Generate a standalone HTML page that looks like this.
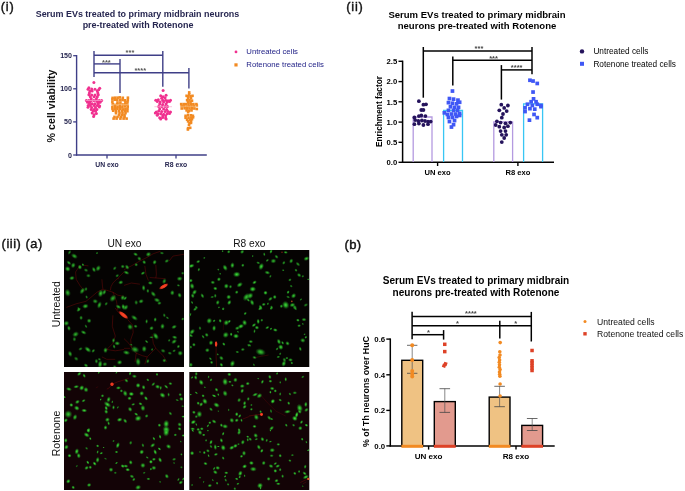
<!DOCTYPE html>
<html><head><meta charset="utf-8"><title>Figure</title>
<style>html,body{margin:0;padding:0;background:#fff;}body{width:685px;height:491px;overflow:hidden;}svg{display:block;}text{font-family:"Liberation Sans",sans-serif;}</style>
</head><body>
<svg width="685" height="491" viewBox="0 0 685 491">
<rect width="685" height="491" fill="#fff"/>
<g opacity="0.999">
<text x="0.8" y="11.3" font-size="12.8" font-weight="normal" fill="#111" text-anchor="start" stroke="#111" stroke-width="0.4" letter-spacing="0.8">(i)</text>
<text x="137.5" y="17.4" font-size="8.95" font-weight="bold" fill="#262650" text-anchor="middle" >Serum EVs treated to primary midbrain neurons</text>
<text x="138" y="28.3" font-size="8.95" font-weight="bold" fill="#262650" text-anchor="middle" >pre-treated with Rotenone</text>
<line x1="76.6" y1="55" x2="76.6" y2="155.6" stroke="#3f3f87" stroke-width="1.4" />
<line x1="76" y1="155" x2="206.8" y2="155" stroke="#3f3f87" stroke-width="1.4" />
<line x1="73.2" y1="55.7" x2="76.6" y2="55.7" stroke="#3f3f87" stroke-width="1.3" />
<text x="72" y="58.2" font-size="7.1" font-weight="bold" fill="#262650" text-anchor="end" >150</text>
<line x1="73.2" y1="88.8" x2="76.6" y2="88.8" stroke="#3f3f87" stroke-width="1.3" />
<text x="72" y="91.3" font-size="7.1" font-weight="bold" fill="#262650" text-anchor="end" >100</text>
<line x1="73.2" y1="121.9" x2="76.6" y2="121.9" stroke="#3f3f87" stroke-width="1.3" />
<text x="72" y="124.4" font-size="7.1" font-weight="bold" fill="#262650" text-anchor="end" >50</text>
<line x1="73.2" y1="155" x2="76.6" y2="155" stroke="#3f3f87" stroke-width="1.3" />
<text x="72" y="157.5" font-size="7.1" font-weight="bold" fill="#262650" text-anchor="end" >0</text>
<line x1="107" y1="155" x2="107" y2="158.6" stroke="#3f3f87" stroke-width="1.3" />
<text x="107" y="167" font-size="6.8" font-weight="bold" fill="#262650" text-anchor="middle" >UN exo</text>
<line x1="176" y1="155" x2="176" y2="158.6" stroke="#3f3f87" stroke-width="1.3" />
<text x="176" y="167" font-size="6.8" font-weight="bold" fill="#262650" text-anchor="middle" >R8 exo</text>
<text x="55.3" y="106" font-size="10.65" font-weight="bold" fill="#111" text-anchor="middle" transform="rotate(-90 55.3 106)" >% cell viability</text>
<line x1="94" y1="51" x2="94" y2="77" stroke="#3f3f87" stroke-width="1.4" />
<line x1="94" y1="55.3" x2="162.8" y2="55.3" stroke="#3f3f87" stroke-width="1.4" />
<line x1="162.8" y1="51" x2="162.8" y2="86.8" stroke="#3f3f87" stroke-width="1.4" />
<line x1="94" y1="63.9" x2="120" y2="63.9" stroke="#3f3f87" stroke-width="1.4" />
<line x1="120" y1="59" x2="120" y2="93" stroke="#3f3f87" stroke-width="1.4" />
<line x1="94" y1="72.7" x2="188.9" y2="72.7" stroke="#3f3f87" stroke-width="1.4" />
<line x1="188.9" y1="68" x2="188.9" y2="88.5" stroke="#3f3f87" stroke-width="1.4" />
<text x="130" y="54.88" font-size="7.5" font-weight="bold" fill="#555" text-anchor="middle" >***</text>
<text x="106.4" y="64.58" font-size="7.5" font-weight="bold" fill="#555" text-anchor="middle" >***</text>
<text x="140.3" y="72.88" font-size="7.5" font-weight="bold" fill="#555" text-anchor="middle" >****</text>
<circle cx="93.9" cy="82.4" r="1.5" fill="#f0308f"/>
<circle cx="88.9" cy="87.8" r="1.5" fill="#f0308f"/>
<circle cx="99.7" cy="88.3" r="1.5" fill="#f0308f"/>
<circle cx="88.0" cy="89.2" r="1.5" fill="#f0308f"/>
<circle cx="91.7" cy="89.1" r="1.5" fill="#f0308f"/>
<circle cx="95.0" cy="89.2" r="1.5" fill="#f0308f"/>
<circle cx="98.7" cy="89.7" r="1.5" fill="#f0308f"/>
<circle cx="89.8" cy="91.1" r="1.5" fill="#f0308f"/>
<circle cx="92.2" cy="91.1" r="1.5" fill="#f0308f"/>
<circle cx="97.3" cy="91.1" r="1.5" fill="#f0308f"/>
<circle cx="89.4" cy="93.0" r="1.5" fill="#f0308f"/>
<circle cx="97.8" cy="93.0" r="1.5" fill="#f0308f"/>
<circle cx="88.9" cy="94.7" r="1.5" fill="#f0308f"/>
<circle cx="91.7" cy="94.9" r="1.5" fill="#f0308f"/>
<circle cx="95.0" cy="95.1" r="1.5" fill="#f0308f"/>
<circle cx="98.3" cy="94.7" r="1.5" fill="#f0308f"/>
<circle cx="90.3" cy="96.7" r="1.5" fill="#f0308f"/>
<circle cx="94.1" cy="96.7" r="1.5" fill="#f0308f"/>
<circle cx="97.3" cy="96.7" r="1.5" fill="#f0308f"/>
<circle cx="91.2" cy="98.8" r="1.5" fill="#f0308f"/>
<circle cx="96.4" cy="98.8" r="1.5" fill="#f0308f"/>
<circle cx="86.4" cy="100.5" r="1.5" fill="#f0308f"/>
<circle cx="88.9" cy="100.5" r="1.5" fill="#f0308f"/>
<circle cx="91.2" cy="100.5" r="1.5" fill="#f0308f"/>
<circle cx="93.9" cy="100.5" r="1.5" fill="#f0308f"/>
<circle cx="96.4" cy="100.5" r="1.5" fill="#f0308f"/>
<circle cx="99.2" cy="100.5" r="1.5" fill="#f0308f"/>
<circle cx="101.6" cy="100.5" r="1.5" fill="#f0308f"/>
<circle cx="87.5" cy="102.2" r="1.5" fill="#f0308f"/>
<circle cx="89.8" cy="102.2" r="1.5" fill="#f0308f"/>
<circle cx="100.1" cy="102.2" r="1.5" fill="#f0308f"/>
<circle cx="97.8" cy="102.2" r="1.5" fill="#f0308f"/>
<circle cx="89.4" cy="103.8" r="1.5" fill="#f0308f"/>
<circle cx="92.2" cy="103.8" r="1.5" fill="#f0308f"/>
<circle cx="95.0" cy="103.8" r="1.5" fill="#f0308f"/>
<circle cx="98.3" cy="103.8" r="1.5" fill="#f0308f"/>
<circle cx="88.2" cy="105.6" r="1.5" fill="#f0308f"/>
<circle cx="90.3" cy="105.6" r="1.5" fill="#f0308f"/>
<circle cx="94.1" cy="105.6" r="1.5" fill="#f0308f"/>
<circle cx="97.3" cy="105.6" r="1.5" fill="#f0308f"/>
<circle cx="99.7" cy="106.1" r="1.5" fill="#f0308f"/>
<circle cx="88.0" cy="107.2" r="1.5" fill="#f0308f"/>
<circle cx="91.7" cy="107.5" r="1.5" fill="#f0308f"/>
<circle cx="95.5" cy="107.5" r="1.5" fill="#f0308f"/>
<circle cx="99.2" cy="107.1" r="1.5" fill="#f0308f"/>
<circle cx="91.2" cy="109.4" r="1.5" fill="#f0308f"/>
<circle cx="94.1" cy="109.4" r="1.5" fill="#f0308f"/>
<circle cx="96.9" cy="109.4" r="1.5" fill="#f0308f"/>
<circle cx="93.1" cy="111.0" r="1.5" fill="#f0308f"/>
<circle cx="95.5" cy="111.3" r="1.5" fill="#f0308f"/>
<circle cx="92.2" cy="113.1" r="1.5" fill="#f0308f"/>
<circle cx="96.4" cy="113.4" r="1.5" fill="#f0308f"/>
<circle cx="94.1" cy="114.7" r="1.5" fill="#f0308f"/>
<circle cx="93.6" cy="116.4" r="1.5" fill="#f0308f"/>
<line x1="85.5" y1="100.5" x2="102.5" y2="100.5" stroke="#f9a8d0" stroke-width="0.7" />
<rect x="111.3" y="96.6" width="2.6" height="2.6" fill="#f28a22"/>
<rect x="113.8" y="96.4" width="2.6" height="2.6" fill="#f28a22"/>
<rect x="116.3" y="96.4" width="2.6" height="2.6" fill="#f28a22"/>
<rect x="118.5" y="96.1" width="2.6" height="2.6" fill="#f28a22"/>
<rect x="121.5" y="96.5" width="2.6" height="2.6" fill="#f28a22"/>
<rect x="126.6" y="96.4" width="2.6" height="2.6" fill="#f28a22"/>
<rect x="111.1" y="98.2" width="2.6" height="2.6" fill="#f28a22"/>
<rect x="113.5" y="98.4" width="2.6" height="2.6" fill="#f28a22"/>
<rect x="116.0" y="98.6" width="2.6" height="2.6" fill="#f28a22"/>
<rect x="119.0" y="98.6" width="2.6" height="2.6" fill="#f28a22"/>
<rect x="121.3" y="98.7" width="2.6" height="2.6" fill="#f28a22"/>
<rect x="123.6" y="99.0" width="2.6" height="2.6" fill="#f28a22"/>
<rect x="126.5" y="98.8" width="2.6" height="2.6" fill="#f28a22"/>
<rect x="111.1" y="100.7" width="2.6" height="2.6" fill="#f28a22"/>
<rect x="116.2" y="101.2" width="2.6" height="2.6" fill="#f28a22"/>
<rect x="119.1" y="101.2" width="2.6" height="2.6" fill="#f28a22"/>
<rect x="124.1" y="100.9" width="2.6" height="2.6" fill="#f28a22"/>
<rect x="126.2" y="100.6" width="2.6" height="2.6" fill="#f28a22"/>
<rect x="111.5" y="103.0" width="2.6" height="2.6" fill="#f28a22"/>
<rect x="113.7" y="103.6" width="2.6" height="2.6" fill="#f28a22"/>
<rect x="116.0" y="103.0" width="2.6" height="2.6" fill="#f28a22"/>
<rect x="118.5" y="103.4" width="2.6" height="2.6" fill="#f28a22"/>
<rect x="121.3" y="103.2" width="2.6" height="2.6" fill="#f28a22"/>
<rect x="124.0" y="102.9" width="2.6" height="2.6" fill="#f28a22"/>
<rect x="126.0" y="103.1" width="2.6" height="2.6" fill="#f28a22"/>
<rect x="111.1" y="105.9" width="2.6" height="2.6" fill="#f28a22"/>
<rect x="113.7" y="105.8" width="2.6" height="2.6" fill="#f28a22"/>
<rect x="116.2" y="105.8" width="2.6" height="2.6" fill="#f28a22"/>
<rect x="118.5" y="105.9" width="2.6" height="2.6" fill="#f28a22"/>
<rect x="121.1" y="105.7" width="2.6" height="2.6" fill="#f28a22"/>
<rect x="123.7" y="105.2" width="2.6" height="2.6" fill="#f28a22"/>
<rect x="126.4" y="105.3" width="2.6" height="2.6" fill="#f28a22"/>
<rect x="111.2" y="107.7" width="2.6" height="2.6" fill="#f28a22"/>
<rect x="113.8" y="107.8" width="2.6" height="2.6" fill="#f28a22"/>
<rect x="116.1" y="107.4" width="2.6" height="2.6" fill="#f28a22"/>
<rect x="119.0" y="107.5" width="2.6" height="2.6" fill="#f28a22"/>
<rect x="121.5" y="108.1" width="2.6" height="2.6" fill="#f28a22"/>
<rect x="124.1" y="108.0" width="2.6" height="2.6" fill="#f28a22"/>
<rect x="126.2" y="107.4" width="2.6" height="2.6" fill="#f28a22"/>
<rect x="111.9" y="109.4" width="2.6" height="2.6" fill="#f28a22"/>
<rect x="114.7" y="110.0" width="2.6" height="2.6" fill="#f28a22"/>
<rect x="117.7" y="109.5" width="2.6" height="2.6" fill="#f28a22"/>
<rect x="120.7" y="109.8" width="2.6" height="2.6" fill="#f28a22"/>
<rect x="123.5" y="109.6" width="2.6" height="2.6" fill="#f28a22"/>
<rect x="126.1" y="109.9" width="2.6" height="2.6" fill="#f28a22"/>
<rect x="114.7" y="111.9" width="2.6" height="2.6" fill="#f28a22"/>
<rect x="118.2" y="111.9" width="2.6" height="2.6" fill="#f28a22"/>
<rect x="121.2" y="111.9" width="2.6" height="2.6" fill="#f28a22"/>
<rect x="124.2" y="111.9" width="2.6" height="2.6" fill="#f28a22"/>
<rect x="117.7" y="113.9" width="2.6" height="2.6" fill="#f28a22"/>
<rect x="120.7" y="113.9" width="2.6" height="2.6" fill="#f28a22"/>
<rect x="123.2" y="113.9" width="2.6" height="2.6" fill="#f28a22"/>
<rect x="113.2" y="115.6" width="2.6" height="2.6" fill="#f28a22"/>
<rect x="116.2" y="115.6" width="2.6" height="2.6" fill="#f28a22"/>
<rect x="119.7" y="115.6" width="2.6" height="2.6" fill="#f28a22"/>
<rect x="123.2" y="115.6" width="2.6" height="2.6" fill="#f28a22"/>
<rect x="112.3" y="117.3" width="2.6" height="2.6" fill="#f28a22"/>
<rect x="115.3" y="117.3" width="2.6" height="2.6" fill="#f28a22"/>
<rect x="119.1" y="117.3" width="2.6" height="2.6" fill="#f28a22"/>
<rect x="122.3" y="117.3" width="2.6" height="2.6" fill="#f28a22"/>
<rect x="125.3" y="117.3" width="2.6" height="2.6" fill="#f28a22"/>
<line x1="111.5" y1="104.6" x2="128.5" y2="104.6" stroke="#f9c48c" stroke-width="0.6" />
<circle cx="163.1" cy="90.4" r="1.5" fill="#f0308f"/>
<circle cx="166.1" cy="95.3" r="1.5" fill="#f0308f"/>
<circle cx="160.7" cy="95.8" r="1.5" fill="#f0308f"/>
<circle cx="163.1" cy="96.7" r="1.5" fill="#f0308f"/>
<circle cx="165.1" cy="97.7" r="1.5" fill="#f0308f"/>
<circle cx="161.7" cy="98.2" r="1.5" fill="#f0308f"/>
<circle cx="155.8" cy="100.2" r="1.5" fill="#f0308f"/>
<circle cx="158.3" cy="99.7" r="1.5" fill="#f0308f"/>
<circle cx="170.5" cy="100.2" r="1.5" fill="#f0308f"/>
<circle cx="168.0" cy="100.7" r="1.5" fill="#f0308f"/>
<circle cx="162.7" cy="100.2" r="1.5" fill="#f0308f"/>
<circle cx="165.6" cy="100.2" r="1.5" fill="#f0308f"/>
<circle cx="157.3" cy="101.6" r="1.5" fill="#f0308f"/>
<circle cx="160.2" cy="102.1" r="1.5" fill="#f0308f"/>
<circle cx="163.6" cy="102.1" r="1.5" fill="#f0308f"/>
<circle cx="167.1" cy="102.1" r="1.5" fill="#f0308f"/>
<circle cx="169.5" cy="101.6" r="1.5" fill="#f0308f"/>
<circle cx="159.7" cy="104.1" r="1.5" fill="#f0308f"/>
<circle cx="162.7" cy="104.6" r="1.5" fill="#f0308f"/>
<circle cx="166.1" cy="104.1" r="1.5" fill="#f0308f"/>
<circle cx="158.7" cy="106.5" r="1.5" fill="#f0308f"/>
<circle cx="161.7" cy="106.7" r="1.5" fill="#f0308f"/>
<circle cx="165.1" cy="106.5" r="1.5" fill="#f0308f"/>
<circle cx="167.5" cy="106.5" r="1.5" fill="#f0308f"/>
<circle cx="159.7" cy="109.0" r="1.5" fill="#f0308f"/>
<circle cx="163.6" cy="109.0" r="1.5" fill="#f0308f"/>
<circle cx="166.6" cy="109.4" r="1.5" fill="#f0308f"/>
<circle cx="156.3" cy="111.9" r="1.5" fill="#f0308f"/>
<circle cx="158.7" cy="110.9" r="1.5" fill="#f0308f"/>
<circle cx="161.7" cy="111.4" r="1.5" fill="#f0308f"/>
<circle cx="165.1" cy="111.4" r="1.5" fill="#f0308f"/>
<circle cx="168.0" cy="111.6" r="1.5" fill="#f0308f"/>
<circle cx="170.5" cy="111.9" r="1.5" fill="#f0308f"/>
<circle cx="155.3" cy="112.9" r="1.5" fill="#f0308f"/>
<circle cx="157.8" cy="113.8" r="1.5" fill="#f0308f"/>
<circle cx="160.7" cy="113.8" r="1.5" fill="#f0308f"/>
<circle cx="163.6" cy="114.3" r="1.5" fill="#f0308f"/>
<circle cx="167.1" cy="113.8" r="1.5" fill="#f0308f"/>
<circle cx="169.5" cy="113.4" r="1.5" fill="#f0308f"/>
<circle cx="157.3" cy="115.3" r="1.5" fill="#f0308f"/>
<circle cx="162.7" cy="115.8" r="1.5" fill="#f0308f"/>
<circle cx="165.6" cy="115.8" r="1.5" fill="#f0308f"/>
<circle cx="159.7" cy="117.8" r="1.5" fill="#f0308f"/>
<circle cx="162.7" cy="117.5" r="1.5" fill="#f0308f"/>
<circle cx="165.6" cy="118.0" r="1.5" fill="#f0308f"/>
<circle cx="160.7" cy="119.0" r="1.5" fill="#f0308f"/>
<circle cx="166.1" cy="119.0" r="1.5" fill="#f0308f"/>
<line x1="154.4" y1="106.7" x2="172" y2="106.7" stroke="#f9a8d0" stroke-width="0.7" />
<rect x="187.9" y="91.1" width="2.6" height="2.6" fill="#f28a22"/>
<rect x="187.9" y="93.0" width="2.6" height="2.6" fill="#f28a22"/>
<rect x="186.8" y="95.0" width="2.6" height="2.6" fill="#f28a22"/>
<rect x="189.2" y="95.0" width="2.6" height="2.6" fill="#f28a22"/>
<rect x="191.2" y="94.5" width="2.6" height="2.6" fill="#f28a22"/>
<rect x="185.3" y="94.5" width="2.6" height="2.6" fill="#f28a22"/>
<rect x="186.8" y="96.9" width="2.6" height="2.6" fill="#f28a22"/>
<rect x="189.7" y="96.9" width="2.6" height="2.6" fill="#f28a22"/>
<rect x="185.8" y="98.9" width="2.6" height="2.6" fill="#f28a22"/>
<rect x="188.2" y="98.9" width="2.6" height="2.6" fill="#f28a22"/>
<rect x="190.7" y="99.4" width="2.6" height="2.6" fill="#f28a22"/>
<rect x="186.8" y="100.8" width="2.6" height="2.6" fill="#f28a22"/>
<rect x="189.2" y="100.8" width="2.6" height="2.6" fill="#f28a22"/>
<rect x="179.9" y="102.8" width="2.6" height="2.6" fill="#f28a22"/>
<rect x="182.4" y="102.8" width="2.6" height="2.6" fill="#f28a22"/>
<rect x="184.8" y="102.8" width="2.6" height="2.6" fill="#f28a22"/>
<rect x="187.2" y="102.8" width="2.6" height="2.6" fill="#f28a22"/>
<rect x="189.7" y="102.8" width="2.6" height="2.6" fill="#f28a22"/>
<rect x="192.1" y="102.8" width="2.6" height="2.6" fill="#f28a22"/>
<rect x="195.1" y="102.8" width="2.6" height="2.6" fill="#f28a22"/>
<rect x="180.4" y="104.7" width="2.6" height="2.6" fill="#f28a22"/>
<rect x="182.8" y="104.7" width="2.6" height="2.6" fill="#f28a22"/>
<rect x="185.3" y="105.2" width="2.6" height="2.6" fill="#f28a22"/>
<rect x="187.7" y="105.0" width="2.6" height="2.6" fill="#f28a22"/>
<rect x="190.2" y="104.7" width="2.6" height="2.6" fill="#f28a22"/>
<rect x="192.6" y="104.7" width="2.6" height="2.6" fill="#f28a22"/>
<rect x="195.5" y="104.2" width="2.6" height="2.6" fill="#f28a22"/>
<rect x="180.4" y="107.2" width="2.6" height="2.6" fill="#f28a22"/>
<rect x="183.3" y="107.0" width="2.6" height="2.6" fill="#f28a22"/>
<rect x="185.8" y="107.0" width="2.6" height="2.6" fill="#f28a22"/>
<rect x="188.2" y="107.2" width="2.6" height="2.6" fill="#f28a22"/>
<rect x="190.7" y="107.0" width="2.6" height="2.6" fill="#f28a22"/>
<rect x="193.1" y="107.2" width="2.6" height="2.6" fill="#f28a22"/>
<rect x="195.5" y="107.7" width="2.6" height="2.6" fill="#f28a22"/>
<rect x="185.3" y="109.1" width="2.6" height="2.6" fill="#f28a22"/>
<rect x="187.7" y="109.6" width="2.6" height="2.6" fill="#f28a22"/>
<rect x="190.2" y="109.1" width="2.6" height="2.6" fill="#f28a22"/>
<rect x="186.8" y="110.9" width="2.6" height="2.6" fill="#f28a22"/>
<rect x="184.3" y="114.5" width="2.6" height="2.6" fill="#f28a22"/>
<rect x="186.8" y="114.0" width="2.6" height="2.6" fill="#f28a22"/>
<rect x="189.7" y="114.0" width="2.6" height="2.6" fill="#f28a22"/>
<rect x="191.6" y="114.5" width="2.6" height="2.6" fill="#f28a22"/>
<rect x="184.3" y="116.5" width="2.6" height="2.6" fill="#f28a22"/>
<rect x="187.2" y="116.5" width="2.6" height="2.6" fill="#f28a22"/>
<rect x="189.7" y="116.2" width="2.6" height="2.6" fill="#f28a22"/>
<rect x="191.8" y="116.0" width="2.6" height="2.6" fill="#f28a22"/>
<rect x="185.8" y="118.4" width="2.6" height="2.6" fill="#f28a22"/>
<rect x="188.7" y="118.4" width="2.6" height="2.6" fill="#f28a22"/>
<rect x="190.7" y="117.9" width="2.6" height="2.6" fill="#f28a22"/>
<rect x="186.8" y="120.1" width="2.6" height="2.6" fill="#f28a22"/>
<rect x="189.7" y="119.9" width="2.6" height="2.6" fill="#f28a22"/>
<rect x="188.2" y="121.8" width="2.6" height="2.6" fill="#f28a22"/>
<rect x="189.7" y="121.6" width="2.6" height="2.6" fill="#f28a22"/>
<rect x="187.7" y="123.6" width="2.6" height="2.6" fill="#f28a22"/>
<rect x="186.8" y="126.9" width="2.6" height="2.6" fill="#f28a22"/>
<rect x="188.9" y="126.5" width="2.6" height="2.6" fill="#f28a22"/>
<rect x="186.6" y="128.2" width="2.6" height="2.6" fill="#f28a22"/>
<line x1="180.3" y1="106.3" x2="198" y2="106.3" stroke="#f9c48c" stroke-width="0.6" />
<circle cx="236" cy="51.9" r="1.4" fill="#f0308f"/>
<rect x="234.4" y="63.3" width="3.2" height="3.2" fill="#f28a22"/>
<text x="246.3" y="54.2" font-size="7.75" font-weight="normal" fill="#232388" text-anchor="start" >Untreated cells</text>
<text x="246.3" y="67.0" font-size="7.75" font-weight="normal" fill="#232388" text-anchor="start" >Rotenone treated cells</text>
<text x="346.3" y="11.3" font-size="12.8" font-weight="normal" fill="#111" text-anchor="start" stroke="#111" stroke-width="0.4" letter-spacing="0.75">(ii)</text>
<text x="477" y="17.9" font-size="9.55" font-weight="bold" fill="#000" text-anchor="middle" >Serum EVs treated to primary midbrain</text>
<text x="477" y="28.5" font-size="9.55" font-weight="bold" fill="#000" text-anchor="middle" >neurons pre-treated with Rotenone</text>
<line x1="402.6" y1="60.6" x2="402.6" y2="163" stroke="#000" stroke-width="1.5" />
<line x1="401.9" y1="162.3" x2="554" y2="162.3" stroke="#000" stroke-width="1.5" />
<line x1="398.5" y1="61.3" x2="402.6" y2="61.3" stroke="#000" stroke-width="1.4" />
<text x="397.2" y="64.0" font-size="7.7" font-weight="bold" fill="#000" text-anchor="end" >2.5</text>
<line x1="398.5" y1="81.6" x2="402.6" y2="81.6" stroke="#000" stroke-width="1.4" />
<text x="397.2" y="84.3" font-size="7.7" font-weight="bold" fill="#000" text-anchor="end" >2.0</text>
<line x1="398.5" y1="101.8" x2="402.6" y2="101.8" stroke="#000" stroke-width="1.4" />
<text x="397.2" y="104.5" font-size="7.7" font-weight="bold" fill="#000" text-anchor="end" >1.5</text>
<line x1="398.5" y1="122.1" x2="402.6" y2="122.1" stroke="#000" stroke-width="1.4" />
<text x="397.2" y="124.8" font-size="7.7" font-weight="bold" fill="#000" text-anchor="end" >1.0</text>
<line x1="398.5" y1="142.3" x2="402.6" y2="142.3" stroke="#000" stroke-width="1.4" />
<text x="397.2" y="145.0" font-size="7.7" font-weight="bold" fill="#000" text-anchor="end" >0.5</text>
<line x1="398.5" y1="162.3" x2="402.6" y2="162.3" stroke="#000" stroke-width="1.4" />
<text x="397.2" y="165.0" font-size="7.7" font-weight="bold" fill="#000" text-anchor="end" >0.0</text>
<line x1="437.6" y1="162.3" x2="437.6" y2="166" stroke="#000" stroke-width="1.4" />
<text x="437.6" y="175.2" font-size="7.6" font-weight="bold" fill="#000" text-anchor="middle" >UN exo</text>
<line x1="517.9" y1="162.3" x2="517.9" y2="166" stroke="#000" stroke-width="1.4" />
<text x="517.9" y="175.2" font-size="7.6" font-weight="bold" fill="#000" text-anchor="middle" >R8 exo</text>
<text x="382" y="111.5" font-size="8.3" font-weight="bold" fill="#000" text-anchor="middle" transform="rotate(-90 382 111.5)" >Enrichment factor</text>
<path d="M413.2 162 V117 H432 V162" fill="none" stroke="#b49ae0" stroke-width="1.3"/>
<path d="M443.6 162 V110.5 H462.5 V162" fill="none" stroke="#38c6f4" stroke-width="1.3"/>
<path d="M493.8 162 V121.8 H512.6 V162" fill="none" stroke="#b49ae0" stroke-width="1.3"/>
<path d="M523.6 162 V103.8 H542.6 V162" fill="none" stroke="#38c6f4" stroke-width="1.3"/>
<circle cx="418.9" cy="101.2" r="1.9" fill="#25135c"/>
<circle cx="423.4" cy="104.7" r="1.9" fill="#25135c"/>
<circle cx="426.0" cy="104.3" r="1.9" fill="#25135c"/>
<circle cx="421.3" cy="110.0" r="1.9" fill="#25135c"/>
<circle cx="423.4" cy="110.0" r="1.9" fill="#25135c"/>
<circle cx="414.4" cy="117.5" r="1.9" fill="#25135c"/>
<circle cx="418.9" cy="116.1" r="1.9" fill="#25135c"/>
<circle cx="421.3" cy="115.5" r="1.9" fill="#25135c"/>
<circle cx="425.4" cy="116.1" r="1.9" fill="#25135c"/>
<circle cx="415.2" cy="120.1" r="1.9" fill="#25135c"/>
<circle cx="418.3" cy="121.0" r="1.9" fill="#25135c"/>
<circle cx="421.9" cy="120.5" r="1.9" fill="#25135c"/>
<circle cx="425.0" cy="121.0" r="1.9" fill="#25135c"/>
<circle cx="428.0" cy="121.6" r="1.9" fill="#25135c"/>
<circle cx="430.7" cy="121.6" r="1.9" fill="#25135c"/>
<circle cx="414.4" cy="124.2" r="1.9" fill="#25135c"/>
<circle cx="418.9" cy="123.6" r="1.9" fill="#25135c"/>
<circle cx="423.4" cy="125.0" r="1.9" fill="#25135c"/>
<circle cx="428.0" cy="124.2" r="1.9" fill="#25135c"/>
<rect x="450.6" y="89.2" width="3.7" height="3.7" fill="#3f57f5"/>
<rect x="447.6" y="96.7" width="3.7" height="3.7" fill="#3f57f5"/>
<rect x="451.7" y="97.3" width="3.7" height="3.7" fill="#3f57f5"/>
<rect x="456.1" y="98.3" width="3.7" height="3.7" fill="#3f57f5"/>
<rect x="446.6" y="100.8" width="3.7" height="3.7" fill="#3f57f5"/>
<rect x="450.6" y="101.4" width="3.7" height="3.7" fill="#3f57f5"/>
<rect x="454.7" y="102.0" width="3.7" height="3.7" fill="#3f57f5"/>
<rect x="457.8" y="100.4" width="3.7" height="3.7" fill="#3f57f5"/>
<rect x="448.6" y="104.9" width="3.7" height="3.7" fill="#3f57f5"/>
<rect x="452.7" y="105.5" width="3.7" height="3.7" fill="#3f57f5"/>
<rect x="456.7" y="105.5" width="3.7" height="3.7" fill="#3f57f5"/>
<rect x="446.6" y="108.5" width="3.7" height="3.7" fill="#3f57f5"/>
<rect x="451.7" y="108.5" width="3.7" height="3.7" fill="#3f57f5"/>
<rect x="455.7" y="108.5" width="3.7" height="3.7" fill="#3f57f5"/>
<rect x="442.5" y="111.0" width="3.7" height="3.7" fill="#3f57f5"/>
<rect x="445.5" y="112.6" width="3.7" height="3.7" fill="#3f57f5"/>
<rect x="449.6" y="112.2" width="3.7" height="3.7" fill="#3f57f5"/>
<rect x="453.7" y="112.2" width="3.7" height="3.7" fill="#3f57f5"/>
<rect x="457.8" y="111.6" width="3.7" height="3.7" fill="#3f57f5"/>
<rect x="446.6" y="115.6" width="3.7" height="3.7" fill="#3f57f5"/>
<rect x="450.6" y="115.6" width="3.7" height="3.7" fill="#3f57f5"/>
<rect x="454.7" y="114.6" width="3.7" height="3.7" fill="#3f57f5"/>
<rect x="447.6" y="119.7" width="3.7" height="3.7" fill="#3f57f5"/>
<rect x="452.7" y="118.7" width="3.7" height="3.7" fill="#3f57f5"/>
<rect x="449.6" y="125.2" width="3.7" height="3.7" fill="#3f57f5"/>
<rect x="451.7" y="122.8" width="3.7" height="3.7" fill="#3f57f5"/>
<rect x="457.8" y="113.6" width="3.7" height="3.7" fill="#3f57f5"/>
<circle cx="501.3" cy="104.7" r="1.9" fill="#25135c"/>
<circle cx="507.9" cy="105.5" r="1.9" fill="#25135c"/>
<circle cx="504.2" cy="107.9" r="1.9" fill="#25135c"/>
<circle cx="499.3" cy="110.3" r="1.9" fill="#25135c"/>
<circle cx="506.7" cy="111.1" r="1.9" fill="#25135c"/>
<circle cx="503.0" cy="114.0" r="1.9" fill="#25135c"/>
<circle cx="501.8" cy="117.7" r="1.9" fill="#25135c"/>
<circle cx="496.9" cy="121.3" r="1.9" fill="#25135c"/>
<circle cx="500.6" cy="122.6" r="1.9" fill="#25135c"/>
<circle cx="505.5" cy="123.3" r="1.9" fill="#25135c"/>
<circle cx="510.3" cy="122.6" r="1.9" fill="#25135c"/>
<circle cx="495.7" cy="125.0" r="1.9" fill="#25135c"/>
<circle cx="499.3" cy="126.7" r="1.9" fill="#25135c"/>
<circle cx="504.2" cy="127.5" r="1.9" fill="#25135c"/>
<circle cx="507.9" cy="126.2" r="1.9" fill="#25135c"/>
<circle cx="500.6" cy="131.1" r="1.9" fill="#25135c"/>
<circle cx="505.5" cy="131.1" r="1.9" fill="#25135c"/>
<circle cx="501.8" cy="134.8" r="1.9" fill="#25135c"/>
<circle cx="506.2" cy="134.8" r="1.9" fill="#25135c"/>
<circle cx="504.2" cy="138.0" r="1.9" fill="#25135c"/>
<circle cx="501.8" cy="142.1" r="1.9" fill="#25135c"/>
<rect x="528.1" y="78.4" width="3.7" height="3.7" fill="#3f57f5"/>
<rect x="531.2" y="79.2" width="3.7" height="3.7" fill="#3f57f5"/>
<rect x="535.4" y="81.6" width="3.7" height="3.7" fill="#3f57f5"/>
<rect x="531.2" y="90.2" width="3.7" height="3.7" fill="#3f57f5"/>
<rect x="531.7" y="97.0" width="3.7" height="3.7" fill="#3f57f5"/>
<rect x="529.3" y="99.9" width="3.7" height="3.7" fill="#3f57f5"/>
<rect x="534.2" y="99.9" width="3.7" height="3.7" fill="#3f57f5"/>
<rect x="525.6" y="102.4" width="3.7" height="3.7" fill="#3f57f5"/>
<rect x="530.5" y="103.6" width="3.7" height="3.7" fill="#3f57f5"/>
<rect x="535.4" y="102.4" width="3.7" height="3.7" fill="#3f57f5"/>
<rect x="539.1" y="103.6" width="3.7" height="3.7" fill="#3f57f5"/>
<rect x="523.2" y="106.0" width="3.7" height="3.7" fill="#3f57f5"/>
<rect x="528.1" y="106.8" width="3.7" height="3.7" fill="#3f57f5"/>
<rect x="532.9" y="107.3" width="3.7" height="3.7" fill="#3f57f5"/>
<rect x="523.2" y="109.7" width="3.7" height="3.7" fill="#3f57f5"/>
<rect x="532.2" y="112.6" width="3.7" height="3.7" fill="#3f57f5"/>
<rect x="535.4" y="115.8" width="3.7" height="3.7" fill="#3f57f5"/>
<rect x="527.6" y="118.3" width="3.7" height="3.7" fill="#3f57f5"/>
<rect x="539.1" y="104.8" width="3.7" height="3.7" fill="#3f57f5"/>
<line x1="423.3" y1="47" x2="423.3" y2="97.7" stroke="#000" stroke-width="1.5" />
<line x1="423.3" y1="51" x2="532" y2="51" stroke="#000" stroke-width="1.5" />
<line x1="532" y1="47" x2="532" y2="74.3" stroke="#000" stroke-width="1.5" />
<line x1="452.8" y1="56.4" x2="452.8" y2="85.5" stroke="#000" stroke-width="1.5" />
<line x1="452.8" y1="60.2" x2="532" y2="60.2" stroke="#000" stroke-width="1.5" />
<line x1="501.4" y1="65.1" x2="501.4" y2="99.6" stroke="#000" stroke-width="1.5" />
<line x1="501.4" y1="69.9" x2="532" y2="69.9" stroke="#000" stroke-width="1.5" />
<text x="479" y="50.57" font-size="7.5" font-weight="bold" fill="#444" text-anchor="middle" >***</text>
<text x="493.6" y="60.67" font-size="7.5" font-weight="bold" fill="#444" text-anchor="middle" >***</text>
<text x="516.7" y="70.38" font-size="7.5" font-weight="bold" fill="#444" text-anchor="middle" >****</text>
<circle cx="582" cy="51.4" r="2.2" fill="#25135c"/>
<rect x="580" y="61.8" width="4" height="4" fill="#3f57f5"/>
<text x="593.4" y="54.3" font-size="8.25" font-weight="normal" fill="#000" text-anchor="start" >Untreated cells</text>
<text x="593.4" y="66.8" font-size="8.25" font-weight="normal" fill="#000" text-anchor="start" >Rotenone treated cells</text>
<text x="1.6" y="248.4" font-size="12.8" font-weight="normal" fill="#111" text-anchor="start" stroke="#111" stroke-width="0.4" letter-spacing="0.55">(iii) (a)</text>
<text x="124.5" y="247.2" font-size="10.2" font-weight="normal" fill="#111" text-anchor="middle" >UN exo</text>
<text x="249.3" y="247.2" font-size="10.2" font-weight="normal" fill="#111" text-anchor="middle" >R8 exo</text>
<text x="59.8" y="304.3" font-size="10.5" font-weight="normal" fill="#111" text-anchor="middle" transform="rotate(-90 59.8 304.3)" >Untreated</text>
<text x="59.8" y="433.5" font-size="10.5" font-weight="normal" fill="#111" text-anchor="middle" transform="rotate(-90 59.8 433.5)" >Rotenone</text>
<rect x="64" y="250" width="120" height="117" fill="#050302"/>
<rect x="189.3" y="250" width="120" height="117" fill="#050302"/>
<rect x="64" y="372" width="120" height="118" fill="#130306"/>
<rect x="189.3" y="372" width="120" height="118" fill="#130306"/>
<defs>
<radialGradient id="g0"><stop offset="0" stop-color="rgb(30,96,26)"/><stop offset="0.38" stop-color="rgb(18,80,18)" stop-opacity="0.85"/><stop offset="0.7" stop-color="rgb(18,80,18)" stop-opacity="0.3"/><stop offset="1" stop-color="rgb(18,80,18)" stop-opacity="0"/></radialGradient>
<radialGradient id="g1"><stop offset="0" stop-color="rgb(36,116,31)"/><stop offset="0.38" stop-color="rgb(21,97,21)" stop-opacity="0.85"/><stop offset="0.7" stop-color="rgb(21,97,21)" stop-opacity="0.3"/><stop offset="1" stop-color="rgb(21,97,21)" stop-opacity="0"/></radialGradient>
<radialGradient id="g2"><stop offset="0" stop-color="rgb(42,137,37)"/><stop offset="0.38" stop-color="rgb(25,114,25)" stop-opacity="0.85"/><stop offset="0.7" stop-color="rgb(25,114,25)" stop-opacity="0.3"/><stop offset="1" stop-color="rgb(25,114,25)" stop-opacity="0"/></radialGradient>
<radialGradient id="g3"><stop offset="0" stop-color="rgb(49,157,42)"/><stop offset="0.38" stop-color="rgb(29,131,29)" stop-opacity="0.85"/><stop offset="0.7" stop-color="rgb(29,131,29)" stop-opacity="0.3"/><stop offset="1" stop-color="rgb(29,131,29)" stop-opacity="0"/></radialGradient>
<radialGradient id="g4"><stop offset="0" stop-color="rgb(55,178,48)"/><stop offset="0.38" stop-color="rgb(33,148,33)" stop-opacity="0.85"/><stop offset="0.7" stop-color="rgb(33,148,33)" stop-opacity="0.3"/><stop offset="1" stop-color="rgb(33,148,33)" stop-opacity="0"/></radialGradient>
<radialGradient id="g5"><stop offset="0" stop-color="rgb(62,198,53)"/><stop offset="0.38" stop-color="rgb(37,165,37)" stop-opacity="0.85"/><stop offset="0.7" stop-color="rgb(37,165,37)" stop-opacity="0.3"/><stop offset="1" stop-color="rgb(37,165,37)" stop-opacity="0"/></radialGradient>
<radialGradient id="g6"><stop offset="0" stop-color="rgb(68,219,59)"/><stop offset="0.38" stop-color="rgb(41,182,41)" stop-opacity="0.85"/><stop offset="0.7" stop-color="rgb(41,182,41)" stop-opacity="0.3"/><stop offset="1" stop-color="rgb(41,182,41)" stop-opacity="0"/></radialGradient>
<radialGradient id="g7"><stop offset="0" stop-color="rgb(75,240,65)"/><stop offset="0.38" stop-color="rgb(45,200,45)" stop-opacity="0.85"/><stop offset="0.7" stop-color="rgb(45,200,45)" stop-opacity="0.3"/><stop offset="1" stop-color="rgb(45,200,45)" stop-opacity="0"/></radialGradient>
<radialGradient id="gr"><stop offset="0" stop-color="#ff4a28"/><stop offset="0.6" stop-color="#f03a20" stop-opacity="0.95"/><stop offset="1" stop-color="#c02010" stop-opacity="0"/></radialGradient>
<clipPath id="c0"><rect x="64" y="250" width="120" height="117"/></clipPath>
<clipPath id="c1"><rect x="189.3" y="250" width="120" height="117"/></clipPath>
<clipPath id="c2"><rect x="64" y="372" width="120" height="118"/></clipPath>
<clipPath id="c3"><rect x="189.3" y="372" width="120" height="118"/></clipPath>
</defs>
<path d="M66.4 307.4 L76.2 303.8 L86.0 301.3 L92.1 296.4 L97.0 292.2 L101.9 289.7 L106.8 290.3 L112.9 292.2 L117.8 295.2 L124.0 296.4" fill="none" stroke="#c01010" stroke-width="0.55" opacity="0.5" clip-path="url(#c0)" stroke-linejoin="round"/>
<path d="M79.9 265.3 L75.6 272.0 L76.2 279.3 L79.9 285.4 L84.8 291.5" fill="none" stroke="#c01010" stroke-width="0.55" opacity="0.5" clip-path="url(#c0)" stroke-linejoin="round"/>
<path d="M117.8 278.1 L112.9 283.0 L111.0 286.7 L110.4 290.3" fill="none" stroke="#c01010" stroke-width="0.55" opacity="0.5" clip-path="url(#c0)" stroke-linejoin="round"/>
<path d="M124.0 272.0 L119.0 276.9 L117.8 279.3" fill="none" stroke="#c01010" stroke-width="0.55" opacity="0.5" clip-path="url(#c0)" stroke-linejoin="round"/>
<path d="M101.9 279.3 L102.5 286.7 L103.1 289.7" fill="none" stroke="#c01010" stroke-width="0.55" opacity="0.5" clip-path="url(#c0)" stroke-linejoin="round"/>
<path d="M112.9 292.2 L116.5 301.3 L117.8 310.0" fill="none" stroke="#c01010" stroke-width="0.55" opacity="0.5" clip-path="url(#c0)" stroke-linejoin="round"/>
<path d="M83.6 265.3 L88.4 265.9" fill="none" stroke="#c01010" stroke-width="0.55" opacity="0.5" clip-path="url(#c0)" stroke-linejoin="round"/>
<path d="M124.0 269.6 L131.3 265.9 L139.9 261.0 L147.2 257.3 L153.3 253.7 L160.7 251.2" fill="none" stroke="#c01010" stroke-width="0.55" opacity="0.5" clip-path="url(#c0)" stroke-linejoin="round"/>
<path d="M155.8 264.7 L156.4 274.4 L155.8 278.1" fill="none" stroke="#c01010" stroke-width="0.55" opacity="0.5" clip-path="url(#c0)" stroke-linejoin="round"/>
<path d="M149.7 277.5 L165.5 278.7" fill="none" stroke="#c01010" stroke-width="0.55" opacity="0.5" clip-path="url(#c0)" stroke-linejoin="round"/>
<path d="M169.2 261.0 L172.9 256.1 L184.0 254.3" fill="none" stroke="#c01010" stroke-width="0.55" opacity="0.5" clip-path="url(#c0)" stroke-linejoin="round"/>
<path d="M124.0 285.4 L131.3 283.0 L139.9 284.2" fill="none" stroke="#c01010" stroke-width="0.55" opacity="0.5" clip-path="url(#c0)" stroke-linejoin="round"/>
<path d="M144.8 265.9 L146.0 274.4 L148.4 280.6" fill="none" stroke="#c01010" stroke-width="0.55" opacity="0.5" clip-path="url(#c0)" stroke-linejoin="round"/>
<path d="M124.0 316.6 L117.8 311.7 L115.3 308.0" fill="none" stroke="#c01010" stroke-width="0.55" opacity="0.5" clip-path="url(#c0)" stroke-linejoin="round"/>
<path d="M112.9 315.3 L112.3 326.3 L115.3 336.1 L112.9 343.4 L106.8 349.5 L104.3 350.8" fill="none" stroke="#c01010" stroke-width="0.55" opacity="0.5" clip-path="url(#c0)" stroke-linejoin="round"/>
<path d="M106.8 349.5 L115.3 350.8 L124.0 349.5" fill="none" stroke="#c01010" stroke-width="0.55" opacity="0.5" clip-path="url(#c0)" stroke-linejoin="round"/>
<path d="M101.9 356.9 L106.8 359.3 L115.3 359.3" fill="none" stroke="#c01010" stroke-width="0.55" opacity="0.5" clip-path="url(#c0)" stroke-linejoin="round"/>
<path d="M127.7 319.6 L132.6 325.1 L133.2 332.4 L130.7 339.8 L131.3 347.1 L136.2 353.2 L142.3 355.7 L147.2 356.9" fill="none" stroke="#c01010" stroke-width="0.55" opacity="0.5" clip-path="url(#c0)" stroke-linejoin="round"/>
<path d="M124.0 338.6 L128.9 343.4 L131.3 347.1" fill="none" stroke="#c01010" stroke-width="0.55" opacity="0.5" clip-path="url(#c0)" stroke-linejoin="round"/>
<path d="M152.1 334.3 L153.3 343.4 L155.8 348.3 L163.1 355.7 L166.8 361.8" fill="none" stroke="#c01010" stroke-width="0.55" opacity="0.5" clip-path="url(#c0)" stroke-linejoin="round"/>
<path d="M147.2 356.9 L152.1 352.0 L155.8 348.3" fill="none" stroke="#c01010" stroke-width="0.55" opacity="0.5" clip-path="url(#c0)" stroke-linejoin="round"/>
<path d="M147.2 356.9 L144.8 364.2" fill="none" stroke="#c01010" stroke-width="0.55" opacity="0.5" clip-path="url(#c0)" stroke-linejoin="round"/>
<path d="M136.2 353.2 L135.0 361.8" fill="none" stroke="#c01010" stroke-width="0.55" opacity="0.5" clip-path="url(#c0)" stroke-linejoin="round"/>
<path d="M124.0 348.3 L130.1 348.3" fill="none" stroke="#c01010" stroke-width="0.55" opacity="0.5" clip-path="url(#c0)" stroke-linejoin="round"/>
<g>
<ellipse cx="163.7" cy="286.4" rx="5.6" ry="2.1" fill="url(#gr)" transform="rotate(-30 163.7 286.4)"/>
<ellipse cx="123.4" cy="315" rx="6.4" ry="2.3" fill="url(#gr)" transform="rotate(38 123.4 315)"/>
<ellipse cx="216.1" cy="344.1" rx="1.7" ry="3.3" fill="url(#gr)"/>
<circle cx="291.8" cy="301.3" r="0.9" fill="#a04018"/>
<circle cx="282.0" cy="252.2" r="0.7" fill="#902018"/>
<circle cx="112.0" cy="384.2" r="2.2" fill="url(#gr)"/>
<circle cx="261.5" cy="414.4" r="1.9" fill="url(#gr)"/>
<circle cx="308.3" cy="478.9" r="1.2" fill="#d8602c"/>
<circle cx="200.6" cy="404.4" r="0.8" fill="#803018"/>
</g>
<path d="M216.1 347.1 L216.1 356.9 L216.5 366.7" fill="none" stroke="#c01010" stroke-width="0.55" opacity="0.5" clip-path="url(#c1)" stroke-linejoin="round"/>
<path d="M223.8 320.2 L223.2 330.0" fill="none" stroke="#c01010" stroke-width="0.5" opacity="0.3" clip-path="url(#c1)" stroke-linejoin="round"/>
<path d="M252.7 358.1 L261.2 356.3 L268.6 355.0" fill="none" stroke="#c01010" stroke-width="0.5" opacity="0.4" clip-path="url(#c1)" stroke-linejoin="round"/>
<path d="M112.0 384.2 L117.8 381.8 L124.0 379.9" fill="none" stroke="#c01010" stroke-width="0.5" opacity="0.5" clip-path="url(#c2)" stroke-linejoin="round"/>
<path d="M112.0 384.2 L109.2 387.9 L106.8 389.1" fill="none" stroke="#c01010" stroke-width="0.5" opacity="0.5" clip-path="url(#c2)" stroke-linejoin="round"/>
<path d="M124.0 379.9 L128.9 378.1" fill="none" stroke="#c01010" stroke-width="0.5" opacity="0.4" clip-path="url(#c2)" stroke-linejoin="round"/>
<path d="M98.2 386.7 L95.8 387.9" fill="none" stroke="#c01010" stroke-width="0.5" opacity="0.3" clip-path="url(#c2)" stroke-linejoin="round"/>
<path d="M249.0 416.0 L255.1 415.0 L260.0 414.5" fill="none" stroke="#c01010" stroke-width="0.55" opacity="0.6" clip-path="url(#c3)" stroke-linejoin="round"/>
<path d="M242.8 419.0 L249.0 416.6" fill="none" stroke="#c01010" stroke-width="0.5" opacity="0.5" clip-path="url(#c3)" stroke-linejoin="round"/>
<path d="M258.8 392.8 L267.3 402.6 L275.9 411.1 L285.7 416.0" fill="none" stroke="#c01010" stroke-width="0.5" opacity="0.3" clip-path="url(#c3)" stroke-linejoin="round"/>
<path d="M300.3 482.5 L305.2 480.1 L309.0 478.9" fill="none" stroke="#c01010" stroke-width="0.5" opacity="0.5" clip-path="url(#c3)" stroke-linejoin="round"/>
<path d="M302.8 483.8 L306.4 481.9" fill="none" stroke="#c01010" stroke-width="0.5" opacity="0.4" clip-path="url(#c3)" stroke-linejoin="round"/>
<g clip-path="url(#c0)">
<ellipse cx="74.4" cy="256.1" rx="3.8" ry="2.5" fill="url(#g4)" transform="rotate(32 74.4 256.1)"/>
<ellipse cx="68.9" cy="262.8" rx="3.0" ry="1.8" fill="url(#g4)" transform="rotate(41 68.9 262.8)"/>
<ellipse cx="73.2" cy="265.3" rx="3.1" ry="2.5" fill="url(#g4)" transform="rotate(111 73.2 265.3)"/>
<ellipse cx="67.7" cy="268.9" rx="3.1" ry="2.8" fill="url(#g5)" transform="rotate(37 67.7 268.9)"/>
<ellipse cx="79.9" cy="267.1" rx="2.7" ry="2.3" fill="url(#g5)" transform="rotate(80 79.9 267.1)"/>
<ellipse cx="82.9" cy="264.7" rx="1.8" ry="1.4" fill="url(#g4)" transform="rotate(66 82.9 264.7)"/>
<ellipse cx="93.9" cy="269.6" rx="3.1" ry="2.0" fill="url(#g4)" transform="rotate(65 93.9 269.6)"/>
<ellipse cx="98.2" cy="268.3" rx="3.5" ry="2.6" fill="url(#g4)" transform="rotate(118 98.2 268.3)"/>
<ellipse cx="86.0" cy="270.2" rx="2.6" ry="1.9" fill="url(#g2)" transform="rotate(25 86.0 270.2)"/>
<ellipse cx="71.9" cy="278.1" rx="3.0" ry="2.3" fill="url(#g4)" transform="rotate(164 71.9 278.1)"/>
<ellipse cx="88.4" cy="275.7" rx="2.6" ry="2.1" fill="url(#g2)" transform="rotate(4 88.4 275.7)"/>
<ellipse cx="114.7" cy="268.3" rx="2.6" ry="1.8" fill="url(#g2)" transform="rotate(131 114.7 268.3)"/>
<ellipse cx="122.7" cy="266.5" rx="2.3" ry="2.1" fill="url(#g3)" transform="rotate(14 122.7 266.5)"/>
<ellipse cx="120.8" cy="282.4" rx="2.8" ry="2.2" fill="url(#g4)" transform="rotate(162 120.8 282.4)"/>
<ellipse cx="117.2" cy="275.7" rx="2.3" ry="1.7" fill="url(#g2)" transform="rotate(143 117.2 275.7)"/>
<ellipse cx="82.3" cy="290.9" rx="3.9" ry="2.4" fill="url(#g4)" transform="rotate(123 82.3 290.9)"/>
<ellipse cx="67.7" cy="292.8" rx="4.2" ry="3.1" fill="url(#g4)" transform="rotate(75 67.7 292.8)"/>
<ellipse cx="86.0" cy="289.1" rx="2.4" ry="1.8" fill="url(#g2)" transform="rotate(103 86.0 289.1)"/>
<ellipse cx="100.7" cy="293.4" rx="4.2" ry="2.8" fill="url(#g5)" transform="rotate(105 100.7 293.4)"/>
<ellipse cx="104.3" cy="292.2" rx="3.2" ry="2.0" fill="url(#g4)" transform="rotate(115 104.3 292.2)"/>
<ellipse cx="112.9" cy="298.3" rx="4.3" ry="3.1" fill="url(#g4)" transform="rotate(131 112.9 298.3)"/>
<ellipse cx="122.7" cy="297.7" rx="2.9" ry="2.4" fill="url(#g4)" transform="rotate(105 122.7 297.7)"/>
<ellipse cx="95.2" cy="301.3" rx="3.0" ry="2.5" fill="url(#g3)" transform="rotate(15 95.2 301.3)"/>
<ellipse cx="99.4" cy="305.0" rx="4.0" ry="2.3" fill="url(#g4)" transform="rotate(108 99.4 305.0)"/>
<ellipse cx="106.2" cy="303.8" rx="2.4" ry="1.7" fill="url(#g2)" transform="rotate(126 106.2 303.8)"/>
<ellipse cx="85.4" cy="306.2" rx="3.4" ry="2.6" fill="url(#g5)" transform="rotate(166 85.4 306.2)"/>
<ellipse cx="78.7" cy="308.7" rx="2.2" ry="1.5" fill="url(#g3)" transform="rotate(54 78.7 308.7)"/>
<ellipse cx="118.4" cy="306.8" rx="3.3" ry="2.0" fill="url(#g4)" transform="rotate(31 118.4 306.8)"/>
<ellipse cx="123.3" cy="306.8" rx="3.2" ry="2.1" fill="url(#g5)" transform="rotate(80 123.3 306.8)"/>
<ellipse cx="69.5" cy="252.4" rx="2.8" ry="1.7" fill="url(#g2)" transform="rotate(120 69.5 252.4)"/>
<ellipse cx="97.0" cy="253.1" rx="1.6" ry="1.3" fill="url(#g2)" transform="rotate(145 97.0 253.1)"/>
<ellipse cx="86.6" cy="297.0" rx="2.1" ry="1.5" fill="url(#g2)" transform="rotate(69 86.6 297.0)"/>
</g>
<g clip-path="url(#c0)">
<ellipse cx="135.6" cy="254.3" rx="2.8" ry="1.9" fill="url(#g4)" transform="rotate(25 135.6 254.3)"/>
<ellipse cx="148.4" cy="254.3" rx="3.0" ry="2.5" fill="url(#g4)" transform="rotate(153 148.4 254.3)"/>
<ellipse cx="139.3" cy="258.6" rx="2.6" ry="2.1" fill="url(#g3)" transform="rotate(50 139.3 258.6)"/>
<ellipse cx="144.2" cy="262.2" rx="2.4" ry="2.0" fill="url(#g4)" transform="rotate(50 144.2 262.2)"/>
<ellipse cx="154.6" cy="262.2" rx="2.7" ry="2.2" fill="url(#g4)" transform="rotate(113 154.6 262.2)"/>
<ellipse cx="166.8" cy="261.0" rx="2.7" ry="1.9" fill="url(#g3)" transform="rotate(151 166.8 261.0)"/>
<ellipse cx="161.9" cy="253.1" rx="2.5" ry="1.6" fill="url(#g2)" transform="rotate(13 161.9 253.1)"/>
<ellipse cx="136.2" cy="264.7" rx="2.0" ry="2.0" fill="url(#g3)" transform="rotate(7 136.2 264.7)"/>
<ellipse cx="127.1" cy="267.1" rx="3.0" ry="2.1" fill="url(#g4)" transform="rotate(56 127.1 267.1)"/>
<ellipse cx="126.4" cy="272.6" rx="3.4" ry="1.9" fill="url(#g4)" transform="rotate(24 126.4 272.6)"/>
<ellipse cx="142.9" cy="273.2" rx="2.7" ry="1.7" fill="url(#g4)" transform="rotate(149 142.9 273.2)"/>
<ellipse cx="150.3" cy="283.0" rx="2.7" ry="2.0" fill="url(#g4)" transform="rotate(8 150.3 283.0)"/>
<ellipse cx="164.3" cy="281.2" rx="3.2" ry="2.2" fill="url(#g3)" transform="rotate(113 164.3 281.2)"/>
<ellipse cx="179.6" cy="278.7" rx="3.2" ry="2.5" fill="url(#g4)" transform="rotate(173 179.6 278.7)"/>
<ellipse cx="143.6" cy="287.9" rx="3.3" ry="2.0" fill="url(#g4)" transform="rotate(86 143.6 287.9)"/>
<ellipse cx="147.8" cy="290.9" rx="2.4" ry="1.7" fill="url(#g3)" transform="rotate(85 147.8 290.9)"/>
<ellipse cx="153.3" cy="294.0" rx="3.6" ry="2.2" fill="url(#g4)" transform="rotate(49 153.3 294.0)"/>
<ellipse cx="172.3" cy="292.8" rx="2.9" ry="2.4" fill="url(#g4)" transform="rotate(94 172.3 292.8)"/>
<ellipse cx="179.6" cy="295.2" rx="2.9" ry="2.2" fill="url(#g4)" transform="rotate(71 179.6 295.2)"/>
<ellipse cx="178.4" cy="285.4" rx="2.0" ry="1.5" fill="url(#g2)" transform="rotate(16 178.4 285.4)"/>
<ellipse cx="157.0" cy="300.1" rx="3.6" ry="2.4" fill="url(#g4)" transform="rotate(23 157.0 300.1)"/>
<ellipse cx="159.4" cy="303.2" rx="2.4" ry="1.9" fill="url(#g3)" transform="rotate(164 159.4 303.2)"/>
<ellipse cx="141.1" cy="301.3" rx="2.9" ry="2.3" fill="url(#g4)" transform="rotate(158 141.1 301.3)"/>
<ellipse cx="136.2" cy="302.5" rx="2.7" ry="2.1" fill="url(#g2)" transform="rotate(83 136.2 302.5)"/>
<ellipse cx="125.2" cy="298.3" rx="2.6" ry="1.6" fill="url(#g4)" transform="rotate(130 125.2 298.3)"/>
<ellipse cx="125.8" cy="307.4" rx="3.4" ry="2.4" fill="url(#g4)" transform="rotate(129 125.8 307.4)"/>
<ellipse cx="182.7" cy="273.2" rx="1.9" ry="1.8" fill="url(#g2)" transform="rotate(176 182.7 273.2)"/>
</g>
<g clip-path="url(#c0)">
<ellipse cx="78.7" cy="309.8" rx="2.9" ry="1.8" fill="url(#g4)" transform="rotate(142 78.7 309.8)"/>
<ellipse cx="66.4" cy="323.3" rx="3.1" ry="2.8" fill="url(#g4)" transform="rotate(154 66.4 323.3)"/>
<ellipse cx="68.9" cy="328.2" rx="2.9" ry="2.0" fill="url(#g4)" transform="rotate(79 68.9 328.2)"/>
<ellipse cx="81.1" cy="317.8" rx="2.5" ry="2.0" fill="url(#g3)" transform="rotate(88 81.1 317.8)"/>
<ellipse cx="89.1" cy="320.8" rx="2.5" ry="2.5" fill="url(#g4)" transform="rotate(12 89.1 320.8)"/>
<ellipse cx="86.0" cy="326.3" rx="2.4" ry="1.4" fill="url(#g2)" transform="rotate(60 86.0 326.3)"/>
<ellipse cx="83.6" cy="332.4" rx="3.4" ry="2.0" fill="url(#g4)" transform="rotate(27 83.6 332.4)"/>
<ellipse cx="75.6" cy="334.3" rx="3.7" ry="2.9" fill="url(#g4)" transform="rotate(151 75.6 334.3)"/>
<ellipse cx="74.4" cy="339.2" rx="2.6" ry="2.1" fill="url(#g2)" transform="rotate(89 74.4 339.2)"/>
<ellipse cx="87.8" cy="349.5" rx="4.3" ry="2.4" fill="url(#g5)" transform="rotate(40 87.8 349.5)"/>
<ellipse cx="93.3" cy="350.8" rx="2.5" ry="1.7" fill="url(#g3)" transform="rotate(131 93.3 350.8)"/>
<ellipse cx="80.5" cy="348.9" rx="2.6" ry="1.8" fill="url(#g2)" transform="rotate(152 80.5 348.9)"/>
<ellipse cx="70.1" cy="353.8" rx="3.4" ry="2.3" fill="url(#g4)" transform="rotate(69 70.1 353.8)"/>
<ellipse cx="76.2" cy="358.7" rx="2.8" ry="2.1" fill="url(#g2)" transform="rotate(37 76.2 358.7)"/>
<ellipse cx="105.5" cy="350.2" rx="3.1" ry="2.4" fill="url(#g4)" transform="rotate(94 105.5 350.2)"/>
<ellipse cx="113.5" cy="340.4" rx="2.8" ry="1.8" fill="url(#g3)" transform="rotate(96 113.5 340.4)"/>
<ellipse cx="117.2" cy="343.4" rx="3.1" ry="2.3" fill="url(#g4)" transform="rotate(5 117.2 343.4)"/>
<ellipse cx="114.1" cy="346.5" rx="2.5" ry="1.6" fill="url(#g3)" transform="rotate(72 114.1 346.5)"/>
<ellipse cx="96.4" cy="361.2" rx="2.7" ry="1.9" fill="url(#g3)" transform="rotate(88 96.4 361.2)"/>
<ellipse cx="100.1" cy="364.2" rx="4.3" ry="2.5" fill="url(#g5)" transform="rotate(97 100.1 364.2)"/>
<ellipse cx="104.9" cy="364.2" rx="2.7" ry="2.3" fill="url(#g3)" transform="rotate(166 104.9 364.2)"/>
<ellipse cx="99.4" cy="359.3" rx="2.0" ry="1.6" fill="url(#g2)" transform="rotate(23 99.4 359.3)"/>
<ellipse cx="119.6" cy="362.4" rx="3.0" ry="2.5" fill="url(#g4)" transform="rotate(162 119.6 362.4)"/>
<ellipse cx="86.0" cy="365.4" rx="2.7" ry="1.9" fill="url(#g4)" transform="rotate(34 86.0 365.4)"/>
<ellipse cx="114.7" cy="366.7" rx="2.2" ry="1.8" fill="url(#g2)" transform="rotate(23 114.7 366.7)"/>
</g>
<g clip-path="url(#c0)">
<ellipse cx="134.4" cy="317.8" rx="4.1" ry="2.3" fill="url(#g4)" transform="rotate(35 134.4 317.8)"/>
<ellipse cx="130.1" cy="326.9" rx="3.3" ry="2.9" fill="url(#g4)" transform="rotate(58 130.1 326.9)"/>
<ellipse cx="135.6" cy="326.3" rx="2.3" ry="1.9" fill="url(#g3)" transform="rotate(19 135.6 326.3)"/>
<ellipse cx="146.6" cy="321.4" rx="2.7" ry="1.6" fill="url(#g3)" transform="rotate(92 146.6 321.4)"/>
<ellipse cx="155.2" cy="319.6" rx="2.5" ry="1.8" fill="url(#g4)" transform="rotate(95 155.2 319.6)"/>
<ellipse cx="164.3" cy="315.3" rx="2.4" ry="1.7" fill="url(#g2)" transform="rotate(74 164.3 315.3)"/>
<ellipse cx="167.4" cy="317.8" rx="2.2" ry="1.4" fill="url(#g2)" transform="rotate(37 167.4 317.8)"/>
<ellipse cx="162.5" cy="326.3" rx="3.2" ry="2.4" fill="url(#g4)" transform="rotate(95 162.5 326.3)"/>
<ellipse cx="174.1" cy="326.9" rx="3.1" ry="2.1" fill="url(#g4)" transform="rotate(154 174.1 326.9)"/>
<ellipse cx="151.5" cy="328.2" rx="2.5" ry="2.2" fill="url(#g4)" transform="rotate(146 151.5 328.2)"/>
<ellipse cx="155.8" cy="336.1" rx="4.2" ry="2.6" fill="url(#g5)" transform="rotate(57 155.8 336.1)"/>
<ellipse cx="151.5" cy="337.3" rx="2.5" ry="1.4" fill="url(#g2)" transform="rotate(180 151.5 337.3)"/>
<ellipse cx="146.6" cy="341.6" rx="2.5" ry="1.4" fill="url(#g3)" transform="rotate(43 146.6 341.6)"/>
<ellipse cx="174.7" cy="337.3" rx="3.0" ry="1.9" fill="url(#g4)" transform="rotate(17 174.7 337.3)"/>
<ellipse cx="174.1" cy="341.6" rx="3.4" ry="2.2" fill="url(#g4)" transform="rotate(142 174.1 341.6)"/>
<ellipse cx="169.2" cy="340.4" rx="1.8" ry="1.5" fill="url(#g2)" transform="rotate(123 169.2 340.4)"/>
<ellipse cx="178.4" cy="346.5" rx="2.2" ry="1.8" fill="url(#g3)" transform="rotate(123 178.4 346.5)"/>
<ellipse cx="135.0" cy="349.5" rx="4.6" ry="3.4" fill="url(#g4)" transform="rotate(21 135.0 349.5)"/>
<ellipse cx="144.2" cy="348.9" rx="3.4" ry="2.7" fill="url(#g4)" transform="rotate(91 144.2 348.9)"/>
<ellipse cx="126.4" cy="352.6" rx="3.9" ry="2.4" fill="url(#g4)" transform="rotate(13 126.4 352.6)"/>
<ellipse cx="152.1" cy="349.5" rx="1.8" ry="1.3" fill="url(#g2)" transform="rotate(99 152.1 349.5)"/>
<ellipse cx="163.1" cy="350.8" rx="2.8" ry="2.1" fill="url(#g2)" transform="rotate(26 163.1 350.8)"/>
<ellipse cx="174.1" cy="350.8" rx="2.2" ry="1.6" fill="url(#g2)" transform="rotate(151 174.1 350.8)"/>
<ellipse cx="169.8" cy="353.2" rx="2.5" ry="1.8" fill="url(#g2)" transform="rotate(17 169.8 353.2)"/>
<ellipse cx="180.2" cy="353.2" rx="2.8" ry="2.9" fill="url(#g4)" transform="rotate(83 180.2 353.2)"/>
<ellipse cx="138.1" cy="361.8" rx="4.4" ry="2.8" fill="url(#g4)" transform="rotate(84 138.1 361.8)"/>
<ellipse cx="147.8" cy="361.2" rx="2.5" ry="1.8" fill="url(#g3)" transform="rotate(108 147.8 361.2)"/>
<ellipse cx="164.3" cy="360.5" rx="2.2" ry="2.2" fill="url(#g3)" transform="rotate(152 164.3 360.5)"/>
<ellipse cx="182.7" cy="319.0" rx="1.9" ry="1.6" fill="url(#g3)" transform="rotate(133 182.7 319.0)"/>
<ellipse cx="131.3" cy="344.7" rx="1.8" ry="1.2" fill="url(#g2)" transform="rotate(30 131.3 344.7)"/>
</g>
<g clip-path="url(#c1)">
<ellipse cx="191.4" cy="265.9" rx="3.4" ry="2.1" fill="url(#g6)" transform="rotate(161 191.4 265.9)"/>
<ellipse cx="198.2" cy="261.6" rx="2.4" ry="1.7" fill="url(#g4)" transform="rotate(155 198.2 261.6)"/>
<ellipse cx="198.8" cy="269.6" rx="2.2" ry="1.5" fill="url(#g3)" transform="rotate(108 198.8 269.6)"/>
<ellipse cx="204.3" cy="257.9" rx="1.5" ry="1.3" fill="url(#g2)" transform="rotate(145 204.3 257.9)"/>
<ellipse cx="190.8" cy="280.6" rx="2.2" ry="2.1" fill="url(#g5)" transform="rotate(134 190.8 280.6)"/>
<ellipse cx="192.1" cy="286.1" rx="3.4" ry="2.5" fill="url(#g5)" transform="rotate(73 192.1 286.1)"/>
<ellipse cx="194.5" cy="292.2" rx="3.2" ry="2.3" fill="url(#g5)" transform="rotate(125 194.5 292.2)"/>
<ellipse cx="192.7" cy="295.8" rx="2.7" ry="2.0" fill="url(#g4)" transform="rotate(73 192.7 295.8)"/>
<ellipse cx="202.4" cy="295.8" rx="3.0" ry="1.8" fill="url(#g4)" transform="rotate(62 202.4 295.8)"/>
<ellipse cx="192.1" cy="302.5" rx="2.1" ry="1.3" fill="url(#g3)" transform="rotate(64 192.1 302.5)"/>
<ellipse cx="196.3" cy="307.4" rx="2.2" ry="1.7" fill="url(#g3)" transform="rotate(42 196.3 307.4)"/>
<ellipse cx="225.1" cy="267.7" rx="3.6" ry="2.4" fill="url(#g5)" transform="rotate(61 225.1 267.7)"/>
<ellipse cx="232.4" cy="265.3" rx="3.2" ry="2.3" fill="url(#g5)" transform="rotate(96 232.4 265.3)"/>
<ellipse cx="242.8" cy="265.3" rx="2.0" ry="1.8" fill="url(#g4)" transform="rotate(116 242.8 265.3)"/>
<ellipse cx="236.7" cy="274.4" rx="3.9" ry="3.0" fill="url(#g6)" transform="rotate(176 236.7 274.4)"/>
<ellipse cx="218.9" cy="279.3" rx="2.3" ry="2.1" fill="url(#g5)" transform="rotate(133 218.9 279.3)"/>
<ellipse cx="212.8" cy="282.4" rx="2.5" ry="2.0" fill="url(#g4)" transform="rotate(9 212.8 282.4)"/>
<ellipse cx="215.3" cy="288.5" rx="2.4" ry="2.0" fill="url(#g5)" transform="rotate(18 215.3 288.5)"/>
<ellipse cx="226.3" cy="286.1" rx="2.8" ry="2.6" fill="url(#g5)" transform="rotate(99 226.3 286.1)"/>
<ellipse cx="230.5" cy="286.7" rx="2.1" ry="1.8" fill="url(#g3)" transform="rotate(102 230.5 286.7)"/>
<ellipse cx="239.7" cy="284.8" rx="3.6" ry="2.4" fill="url(#g5)" transform="rotate(146 239.7 284.8)"/>
<ellipse cx="236.7" cy="292.2" rx="2.1" ry="1.9" fill="url(#g4)" transform="rotate(137 236.7 292.2)"/>
<ellipse cx="228.7" cy="297.0" rx="2.5" ry="2.6" fill="url(#g5)" transform="rotate(29 228.7 297.0)"/>
<ellipse cx="215.3" cy="295.8" rx="2.4" ry="1.6" fill="url(#g3)" transform="rotate(89 215.3 295.8)"/>
<ellipse cx="212.2" cy="297.0" rx="2.2" ry="1.4" fill="url(#g2)" transform="rotate(170 212.2 297.0)"/>
<ellipse cx="217.7" cy="302.5" rx="2.7" ry="2.1" fill="url(#g4)" transform="rotate(108 217.7 302.5)"/>
<ellipse cx="229.3" cy="302.5" rx="2.9" ry="2.1" fill="url(#g5)" transform="rotate(118 229.3 302.5)"/>
<ellipse cx="246.4" cy="297.0" rx="4.7" ry="3.2" fill="url(#g5)" transform="rotate(129 246.4 297.0)"/>
<ellipse cx="248.3" cy="300.1" rx="2.3" ry="1.5" fill="url(#g4)" transform="rotate(44 248.3 300.1)"/>
<ellipse cx="242.2" cy="251.8" rx="2.5" ry="2.0" fill="url(#g4)" transform="rotate(136 242.2 251.8)"/>
<ellipse cx="228.7" cy="251.8" rx="2.0" ry="1.8" fill="url(#g4)" transform="rotate(135 228.7 251.8)"/>
<ellipse cx="222.6" cy="251.2" rx="1.3" ry="1.3" fill="url(#g3)" transform="rotate(170 222.6 251.2)"/>
<ellipse cx="220.2" cy="273.8" rx="1.3" ry="1.3" fill="url(#g2)" transform="rotate(77 220.2 273.8)"/>
<ellipse cx="218.3" cy="269.6" rx="1.5" ry="1.3" fill="url(#g2)" transform="rotate(44 218.3 269.6)"/>
<ellipse cx="223.2" cy="308.7" rx="1.8" ry="1.6" fill="url(#g3)" transform="rotate(130 223.2 308.7)"/>
<ellipse cx="218.9" cy="307.4" rx="1.5" ry="1.3" fill="url(#g2)" transform="rotate(147 218.9 307.4)"/>
</g>
<g clip-path="url(#c1)">
<ellipse cx="271.0" cy="251.5" rx="2.5" ry="1.6" fill="url(#g5)" transform="rotate(112 271.0 251.5)"/>
<ellipse cx="285.7" cy="252.4" rx="2.4" ry="1.6" fill="url(#g4)" transform="rotate(9 285.7 252.4)"/>
<ellipse cx="264.3" cy="254.3" rx="2.2" ry="1.4" fill="url(#g3)" transform="rotate(80 264.3 254.3)"/>
<ellipse cx="276.5" cy="256.7" rx="2.6" ry="1.8" fill="url(#g3)" transform="rotate(47 276.5 256.7)"/>
<ellipse cx="267.3" cy="260.4" rx="2.2" ry="1.5" fill="url(#g3)" transform="rotate(140 267.3 260.4)"/>
<ellipse cx="273.4" cy="261.0" rx="3.1" ry="2.6" fill="url(#g4)" transform="rotate(171 273.4 261.0)"/>
<ellipse cx="258.2" cy="262.8" rx="2.3" ry="1.5" fill="url(#g3)" transform="rotate(20 258.2 262.8)"/>
<ellipse cx="261.2" cy="266.5" rx="3.9" ry="2.7" fill="url(#g6)" transform="rotate(112 261.2 266.5)"/>
<ellipse cx="283.8" cy="262.8" rx="2.3" ry="1.7" fill="url(#g3)" transform="rotate(123 283.8 262.8)"/>
<ellipse cx="291.2" cy="261.0" rx="2.8" ry="2.1" fill="url(#g4)" transform="rotate(114 291.2 261.0)"/>
<ellipse cx="297.9" cy="264.1" rx="3.0" ry="1.8" fill="url(#g3)" transform="rotate(45 297.9 264.1)"/>
<ellipse cx="306.4" cy="258.6" rx="3.2" ry="2.3" fill="url(#g5)" transform="rotate(158 306.4 258.6)"/>
<ellipse cx="296.0" cy="270.2" rx="2.0" ry="1.6" fill="url(#g3)" transform="rotate(49 296.0 270.2)"/>
<ellipse cx="283.2" cy="270.2" rx="1.5" ry="1.2" fill="url(#g3)" transform="rotate(18 283.2 270.2)"/>
<ellipse cx="267.3" cy="272.6" rx="3.1" ry="2.0" fill="url(#g4)" transform="rotate(16 267.3 272.6)"/>
<ellipse cx="270.4" cy="276.3" rx="2.0" ry="1.4" fill="url(#g2)" transform="rotate(114 270.4 276.3)"/>
<ellipse cx="299.1" cy="275.1" rx="2.6" ry="2.0" fill="url(#g4)" transform="rotate(38 299.1 275.1)"/>
<ellipse cx="302.8" cy="276.3" rx="1.7" ry="1.5" fill="url(#g2)" transform="rotate(151 302.8 276.3)"/>
<ellipse cx="289.9" cy="279.9" rx="2.0" ry="1.6" fill="url(#g3)" transform="rotate(146 289.9 279.9)"/>
<ellipse cx="291.2" cy="286.1" rx="1.9" ry="1.5" fill="url(#g2)" transform="rotate(38 291.2 286.1)"/>
<ellipse cx="254.5" cy="282.4" rx="2.7" ry="1.9" fill="url(#g5)" transform="rotate(146 254.5 282.4)"/>
<ellipse cx="252.7" cy="289.1" rx="3.5" ry="2.9" fill="url(#g6)" transform="rotate(178 252.7 289.1)"/>
<ellipse cx="250.2" cy="295.8" rx="3.7" ry="3.0" fill="url(#g5)" transform="rotate(134 250.2 295.8)"/>
<ellipse cx="252.1" cy="302.5" rx="3.5" ry="2.2" fill="url(#g5)" transform="rotate(66 252.1 302.5)"/>
<ellipse cx="265.5" cy="292.8" rx="2.3" ry="2.3" fill="url(#g6)" transform="rotate(14 265.5 292.8)"/>
<ellipse cx="274.7" cy="297.0" rx="2.3" ry="2.1" fill="url(#g5)" transform="rotate(87 274.7 297.0)"/>
<ellipse cx="270.4" cy="298.9" rx="2.9" ry="1.9" fill="url(#g4)" transform="rotate(140 270.4 298.9)"/>
<ellipse cx="288.1" cy="292.2" rx="2.1" ry="1.6" fill="url(#g5)" transform="rotate(119 288.1 292.2)"/>
<ellipse cx="293.6" cy="295.8" rx="3.1" ry="2.5" fill="url(#g5)" transform="rotate(130 293.6 295.8)"/>
<ellipse cx="288.1" cy="297.0" rx="2.3" ry="1.5" fill="url(#g2)" transform="rotate(26 288.1 297.0)"/>
<ellipse cx="285.7" cy="305.0" rx="4.3" ry="3.7" fill="url(#g6)" transform="rotate(66 285.7 305.0)"/>
<ellipse cx="281.4" cy="306.2" rx="2.1" ry="1.9" fill="url(#g4)" transform="rotate(102 281.4 306.2)"/>
<ellipse cx="292.4" cy="305.0" rx="3.2" ry="2.3" fill="url(#g5)" transform="rotate(164 292.4 305.0)"/>
<ellipse cx="294.8" cy="307.4" rx="2.7" ry="2.2" fill="url(#g4)" transform="rotate(55 294.8 307.4)"/>
<ellipse cx="263.7" cy="304.4" rx="2.3" ry="1.8" fill="url(#g4)" transform="rotate(168 263.7 304.4)"/>
<ellipse cx="260.6" cy="307.4" rx="3.2" ry="1.9" fill="url(#g5)" transform="rotate(65 260.6 307.4)"/>
<ellipse cx="271.6" cy="307.4" rx="2.3" ry="1.7" fill="url(#g4)" transform="rotate(71 271.6 307.4)"/>
<ellipse cx="267.9" cy="303.8" rx="1.8" ry="1.2" fill="url(#g3)" transform="rotate(101 267.9 303.8)"/>
<ellipse cx="305.8" cy="305.0" rx="2.7" ry="1.8" fill="url(#g2)" transform="rotate(151 305.8 305.0)"/>
<ellipse cx="300.9" cy="299.5" rx="1.9" ry="1.2" fill="url(#g2)" transform="rotate(137 300.9 299.5)"/>
<ellipse cx="308.3" cy="279.3" rx="1.7" ry="1.1" fill="url(#g3)" transform="rotate(4 308.3 279.3)"/>
<ellipse cx="252.7" cy="256.1" rx="1.5" ry="1.2" fill="url(#g2)" transform="rotate(102 252.7 256.1)"/>
</g>
<g clip-path="url(#c1)">
<ellipse cx="195.1" cy="309.2" rx="2.5" ry="1.7" fill="url(#g4)" transform="rotate(145 195.1 309.2)"/>
<ellipse cx="223.2" cy="309.2" rx="1.5" ry="1.4" fill="url(#g3)" transform="rotate(142 223.2 309.2)"/>
<ellipse cx="245.2" cy="313.5" rx="2.1" ry="1.6" fill="url(#g4)" transform="rotate(133 245.2 313.5)"/>
<ellipse cx="190.2" cy="314.7" rx="2.5" ry="1.4" fill="url(#g3)" transform="rotate(114 190.2 314.7)"/>
<ellipse cx="209.2" cy="320.8" rx="3.2" ry="2.9" fill="url(#g5)" transform="rotate(117 209.2 320.8)"/>
<ellipse cx="214.1" cy="320.8" rx="1.9" ry="1.4" fill="url(#g4)" transform="rotate(138 214.1 320.8)"/>
<ellipse cx="220.2" cy="320.8" rx="2.2" ry="1.7" fill="url(#g5)" transform="rotate(71 220.2 320.8)"/>
<ellipse cx="226.3" cy="322.7" rx="3.2" ry="2.9" fill="url(#g5)" transform="rotate(121 226.3 322.7)"/>
<ellipse cx="229.3" cy="321.4" rx="2.1" ry="1.6" fill="url(#g5)" transform="rotate(130 229.3 321.4)"/>
<ellipse cx="244.6" cy="322.7" rx="3.3" ry="2.6" fill="url(#g5)" transform="rotate(74 244.6 322.7)"/>
<ellipse cx="240.9" cy="326.3" rx="3.4" ry="2.4" fill="url(#g6)" transform="rotate(154 240.9 326.3)"/>
<ellipse cx="237.3" cy="328.2" rx="2.7" ry="2.0" fill="url(#g4)" transform="rotate(160 237.3 328.2)"/>
<ellipse cx="214.1" cy="328.2" rx="3.2" ry="2.1" fill="url(#g5)" transform="rotate(94 214.1 328.2)"/>
<ellipse cx="200.0" cy="328.2" rx="2.3" ry="1.7" fill="url(#g2)" transform="rotate(76 200.0 328.2)"/>
<ellipse cx="192.1" cy="331.8" rx="3.6" ry="2.4" fill="url(#g5)" transform="rotate(133 192.1 331.8)"/>
<ellipse cx="190.8" cy="335.5" rx="2.9" ry="1.7" fill="url(#g4)" transform="rotate(30 190.8 335.5)"/>
<ellipse cx="206.7" cy="334.9" rx="2.4" ry="2.0" fill="url(#g4)" transform="rotate(53 206.7 334.9)"/>
<ellipse cx="203.1" cy="336.7" rx="2.5" ry="1.4" fill="url(#g3)" transform="rotate(56 203.1 336.7)"/>
<ellipse cx="225.7" cy="334.9" rx="3.4" ry="3.1" fill="url(#g5)" transform="rotate(140 225.7 334.9)"/>
<ellipse cx="231.2" cy="334.3" rx="2.1" ry="1.6" fill="url(#g5)" transform="rotate(83 231.2 334.3)"/>
<ellipse cx="236.0" cy="336.1" rx="3.1" ry="2.6" fill="url(#g6)" transform="rotate(7 236.0 336.1)"/>
<ellipse cx="237.9" cy="331.8" rx="1.6" ry="1.2" fill="url(#g2)" transform="rotate(39 237.9 331.8)"/>
<ellipse cx="211.0" cy="342.8" rx="2.7" ry="2.4" fill="url(#g5)" transform="rotate(107 211.0 342.8)"/>
<ellipse cx="223.8" cy="344.1" rx="2.2" ry="1.6" fill="url(#g5)" transform="rotate(51 223.8 344.1)"/>
<ellipse cx="193.9" cy="344.7" rx="2.1" ry="2.0" fill="url(#g4)" transform="rotate(56 193.9 344.7)"/>
<ellipse cx="190.8" cy="347.1" rx="1.9" ry="1.5" fill="url(#g3)" transform="rotate(86 190.8 347.1)"/>
<ellipse cx="207.3" cy="350.2" rx="2.5" ry="2.3" fill="url(#g4)" transform="rotate(165 207.3 350.2)"/>
<ellipse cx="242.8" cy="349.5" rx="2.3" ry="1.8" fill="url(#g3)" transform="rotate(172 242.8 349.5)"/>
<ellipse cx="237.3" cy="352.0" rx="2.1" ry="1.4" fill="url(#g3)" transform="rotate(9 237.3 352.0)"/>
<ellipse cx="248.3" cy="345.3" rx="1.8" ry="1.2" fill="url(#g3)" transform="rotate(69 248.3 345.3)"/>
<ellipse cx="221.4" cy="358.1" rx="2.8" ry="2.1" fill="url(#g4)" transform="rotate(49 221.4 358.1)"/>
<ellipse cx="210.4" cy="358.7" rx="2.2" ry="1.4" fill="url(#g3)" transform="rotate(43 210.4 358.7)"/>
<ellipse cx="211.6" cy="362.4" rx="2.0" ry="1.8" fill="url(#g4)" transform="rotate(67 211.6 362.4)"/>
<ellipse cx="232.4" cy="363.6" rx="3.7" ry="2.7" fill="url(#g5)" transform="rotate(109 232.4 363.6)"/>
<ellipse cx="221.4" cy="364.8" rx="2.4" ry="1.8" fill="url(#g5)" transform="rotate(58 221.4 364.8)"/>
<ellipse cx="190.8" cy="364.8" rx="2.5" ry="2.3" fill="url(#g4)" transform="rotate(93 190.8 364.8)"/>
<ellipse cx="217.7" cy="354.4" rx="1.6" ry="1.3" fill="url(#g2)" transform="rotate(48 217.7 354.4)"/>
</g>
<g clip-path="url(#c1)">
<ellipse cx="260.0" cy="308.6" rx="2.5" ry="1.6" fill="url(#g5)" transform="rotate(139 260.0 308.6)"/>
<ellipse cx="271.0" cy="308.6" rx="1.5" ry="1.5" fill="url(#g4)" transform="rotate(152 271.0 308.6)"/>
<ellipse cx="295.4" cy="308.6" rx="2.4" ry="1.4" fill="url(#g3)" transform="rotate(49 295.4 308.6)"/>
<ellipse cx="258.2" cy="321.4" rx="3.0" ry="1.8" fill="url(#g5)" transform="rotate(86 258.2 321.4)"/>
<ellipse cx="261.8" cy="320.2" rx="1.8" ry="1.6" fill="url(#g3)" transform="rotate(106 261.8 320.2)"/>
<ellipse cx="253.9" cy="325.1" rx="2.8" ry="1.7" fill="url(#g5)" transform="rotate(142 253.9 325.1)"/>
<ellipse cx="256.9" cy="327.6" rx="2.4" ry="2.1" fill="url(#g5)" transform="rotate(16 256.9 327.6)"/>
<ellipse cx="254.5" cy="331.2" rx="2.4" ry="1.4" fill="url(#g3)" transform="rotate(98 254.5 331.2)"/>
<ellipse cx="267.3" cy="327.6" rx="2.5" ry="1.6" fill="url(#g4)" transform="rotate(150 267.3 327.6)"/>
<ellipse cx="275.3" cy="330.0" rx="2.6" ry="1.9" fill="url(#g5)" transform="rotate(14 275.3 330.0)"/>
<ellipse cx="271.0" cy="328.8" rx="1.7" ry="1.3" fill="url(#g4)" transform="rotate(129 271.0 328.8)"/>
<ellipse cx="297.9" cy="320.2" rx="2.0" ry="1.7" fill="url(#g5)" transform="rotate(19 297.9 320.2)"/>
<ellipse cx="299.1" cy="325.7" rx="2.1" ry="1.6" fill="url(#g4)" transform="rotate(174 299.1 325.7)"/>
<ellipse cx="304.0" cy="319.6" rx="2.7" ry="1.9" fill="url(#g4)" transform="rotate(2 304.0 319.6)"/>
<ellipse cx="302.8" cy="323.9" rx="1.5" ry="1.2" fill="url(#g2)" transform="rotate(43 302.8 323.9)"/>
<ellipse cx="250.8" cy="341.6" rx="2.5" ry="1.8" fill="url(#g4)" transform="rotate(2 250.8 341.6)"/>
<ellipse cx="249.6" cy="345.3" rx="2.2" ry="1.5" fill="url(#g3)" transform="rotate(37 249.6 345.3)"/>
<ellipse cx="278.9" cy="341.6" rx="3.2" ry="2.1" fill="url(#g5)" transform="rotate(68 278.9 341.6)"/>
<ellipse cx="282.6" cy="342.8" rx="2.2" ry="1.5" fill="url(#g4)" transform="rotate(61 282.6 342.8)"/>
<ellipse cx="287.5" cy="343.4" rx="2.6" ry="2.2" fill="url(#g4)" transform="rotate(46 287.5 343.4)"/>
<ellipse cx="280.8" cy="347.1" rx="3.0" ry="2.7" fill="url(#g6)" transform="rotate(59 280.8 347.1)"/>
<ellipse cx="277.1" cy="348.9" rx="2.1" ry="1.4" fill="url(#g3)" transform="rotate(130 277.1 348.9)"/>
<ellipse cx="302.8" cy="340.4" rx="2.9" ry="2.5" fill="url(#g4)" transform="rotate(17 302.8 340.4)"/>
<ellipse cx="305.8" cy="337.3" rx="1.8" ry="1.4" fill="url(#g4)" transform="rotate(122 305.8 337.3)"/>
<ellipse cx="300.3" cy="348.9" rx="2.6" ry="1.6" fill="url(#g4)" transform="rotate(72 300.3 348.9)"/>
<ellipse cx="260.6" cy="352.0" rx="5.5" ry="3.7" fill="url(#g5)" transform="rotate(16 260.6 352.0)"/>
<ellipse cx="254.5" cy="357.5" rx="2.5" ry="1.8" fill="url(#g3)" transform="rotate(22 254.5 357.5)"/>
<ellipse cx="278.3" cy="356.9" rx="2.1" ry="1.4" fill="url(#g3)" transform="rotate(166 278.3 356.9)"/>
<ellipse cx="280.2" cy="353.8" rx="1.8" ry="1.4" fill="url(#g2)" transform="rotate(117 280.2 353.8)"/>
<ellipse cx="284.4" cy="359.9" rx="2.7" ry="2.0" fill="url(#g3)" transform="rotate(69 284.4 359.9)"/>
<ellipse cx="290.5" cy="359.9" rx="2.6" ry="2.0" fill="url(#g4)" transform="rotate(3 290.5 359.9)"/>
<ellipse cx="286.9" cy="358.1" rx="1.8" ry="1.5" fill="url(#g3)" transform="rotate(177 286.9 358.1)"/>
<ellipse cx="283.8" cy="363.6" rx="3.4" ry="2.4" fill="url(#g5)" transform="rotate(110 283.8 363.6)"/>
<ellipse cx="291.8" cy="363.0" rx="1.7" ry="1.5" fill="url(#g4)" transform="rotate(62 291.8 363.0)"/>
<ellipse cx="253.9" cy="364.8" rx="1.9" ry="1.2" fill="url(#g2)" transform="rotate(68 253.9 364.8)"/>
<ellipse cx="304.6" cy="334.3" rx="1.5" ry="1.2" fill="url(#g2)" transform="rotate(149 304.6 334.3)"/>
</g>
<g clip-path="url(#c2)">
<ellipse cx="79.3" cy="373.8" rx="2.9" ry="1.8" fill="url(#g5)" transform="rotate(138 79.3 373.8)"/>
<ellipse cx="84.2" cy="375.7" rx="2.5" ry="1.6" fill="url(#g5)" transform="rotate(63 84.2 375.7)"/>
<ellipse cx="98.8" cy="372.6" rx="1.8" ry="1.2" fill="url(#g4)" transform="rotate(128 98.8 372.6)"/>
<ellipse cx="116.5" cy="372.6" rx="1.8" ry="1.1" fill="url(#g3)" transform="rotate(129 116.5 372.6)"/>
<ellipse cx="76.2" cy="386.7" rx="3.1" ry="1.8" fill="url(#g5)" transform="rotate(170 76.2 386.7)"/>
<ellipse cx="68.9" cy="389.1" rx="3.2" ry="2.0" fill="url(#g5)" transform="rotate(15 68.9 389.1)"/>
<ellipse cx="81.7" cy="387.9" rx="3.0" ry="2.6" fill="url(#g6)" transform="rotate(125 81.7 387.9)"/>
<ellipse cx="86.0" cy="389.7" rx="2.9" ry="2.6" fill="url(#g5)" transform="rotate(65 86.0 389.7)"/>
<ellipse cx="118.4" cy="387.9" rx="2.7" ry="1.8" fill="url(#g5)" transform="rotate(175 118.4 387.9)"/>
<ellipse cx="121.4" cy="390.9" rx="1.8" ry="1.8" fill="url(#g4)" transform="rotate(98 121.4 390.9)"/>
<ellipse cx="64.6" cy="397.1" rx="1.6" ry="1.2" fill="url(#g5)" transform="rotate(48 64.6 397.1)"/>
<ellipse cx="77.4" cy="401.9" rx="2.8" ry="2.1" fill="url(#g5)" transform="rotate(147 77.4 401.9)"/>
<ellipse cx="83.6" cy="400.7" rx="2.5" ry="1.6" fill="url(#g4)" transform="rotate(148 83.6 400.7)"/>
<ellipse cx="71.3" cy="405.0" rx="2.2" ry="2.1" fill="url(#g6)" transform="rotate(43 71.3 405.0)"/>
<ellipse cx="76.8" cy="408.1" rx="3.1" ry="2.5" fill="url(#g6)" transform="rotate(33 76.8 408.1)"/>
<ellipse cx="84.2" cy="410.5" rx="3.1" ry="2.0" fill="url(#g6)" transform="rotate(6 84.2 410.5)"/>
<ellipse cx="102.5" cy="395.8" rx="1.9" ry="1.8" fill="url(#g4)" transform="rotate(169 102.5 395.8)"/>
<ellipse cx="100.7" cy="399.5" rx="1.6" ry="1.1" fill="url(#g4)" transform="rotate(121 100.7 399.5)"/>
<ellipse cx="108.6" cy="399.5" rx="3.3" ry="2.2" fill="url(#g5)" transform="rotate(107 108.6 399.5)"/>
<ellipse cx="107.4" cy="404.4" rx="4.4" ry="2.5" fill="url(#g6)" transform="rotate(36 107.4 404.4)"/>
<ellipse cx="106.2" cy="408.1" rx="2.7" ry="1.8" fill="url(#g6)" transform="rotate(70 106.2 408.1)"/>
<ellipse cx="113.5" cy="407.4" rx="2.5" ry="1.6" fill="url(#g4)" transform="rotate(94 113.5 407.4)"/>
<ellipse cx="106.2" cy="411.7" rx="2.5" ry="2.1" fill="url(#g5)" transform="rotate(60 106.2 411.7)"/>
<ellipse cx="117.8" cy="407.4" rx="1.9" ry="1.2" fill="url(#g2)" transform="rotate(121 117.8 407.4)"/>
<ellipse cx="68.3" cy="414.2" rx="4.2" ry="4.2" fill="url(#g5)" transform="rotate(108 68.3 414.2)"/>
<ellipse cx="75.0" cy="417.2" rx="3.3" ry="2.4" fill="url(#g5)" transform="rotate(112 75.0 417.2)"/>
<ellipse cx="65.8" cy="420.3" rx="2.6" ry="2.0" fill="url(#g5)" transform="rotate(135 65.8 420.3)"/>
<ellipse cx="107.4" cy="419.7" rx="2.7" ry="2.4" fill="url(#g5)" transform="rotate(151 107.4 419.7)"/>
<ellipse cx="108.6" cy="423.3" rx="2.4" ry="1.5" fill="url(#g4)" transform="rotate(78 108.6 423.3)"/>
<ellipse cx="105.5" cy="427.6" rx="2.5" ry="2.1" fill="url(#g5)" transform="rotate(95 105.5 427.6)"/>
<ellipse cx="119.6" cy="419.7" rx="3.1" ry="2.2" fill="url(#g6)" transform="rotate(163 119.6 419.7)"/>
<ellipse cx="88.4" cy="430.0" rx="2.6" ry="1.7" fill="url(#g5)" transform="rotate(131 88.4 430.0)"/>
<ellipse cx="112.3" cy="401.9" rx="1.8" ry="1.2" fill="url(#g3)" transform="rotate(108 112.3 401.9)"/>
</g>
<g clip-path="url(#c2)">
<ellipse cx="130.1" cy="373.5" rx="2.3" ry="1.5" fill="url(#g5)" transform="rotate(107 130.1 373.5)"/>
<ellipse cx="157.0" cy="374.4" rx="1.8" ry="1.4" fill="url(#g5)" transform="rotate(80 157.0 374.4)"/>
<ellipse cx="134.4" cy="376.3" rx="2.7" ry="2.0" fill="url(#g4)" transform="rotate(9 134.4 376.3)"/>
<ellipse cx="126.4" cy="380.6" rx="2.6" ry="1.8" fill="url(#g4)" transform="rotate(43 126.4 380.6)"/>
<ellipse cx="147.8" cy="379.9" rx="2.0" ry="1.5" fill="url(#g4)" transform="rotate(42 147.8 379.9)"/>
<ellipse cx="138.1" cy="385.4" rx="2.6" ry="2.6" fill="url(#g6)" transform="rotate(174 138.1 385.4)"/>
<ellipse cx="143.6" cy="387.3" rx="2.6" ry="2.0" fill="url(#g5)" transform="rotate(76 143.6 387.3)"/>
<ellipse cx="153.3" cy="384.2" rx="2.7" ry="1.6" fill="url(#g4)" transform="rotate(134 153.3 384.2)"/>
<ellipse cx="157.6" cy="386.7" rx="2.8" ry="2.3" fill="url(#g5)" transform="rotate(18 157.6 386.7)"/>
<ellipse cx="160.7" cy="387.9" rx="2.4" ry="1.4" fill="url(#g4)" transform="rotate(97 160.7 387.9)"/>
<ellipse cx="166.2" cy="386.7" rx="2.9" ry="1.5" fill="url(#g5)" transform="rotate(44 166.2 386.7)"/>
<ellipse cx="170.4" cy="383.6" rx="2.3" ry="1.7" fill="url(#g4)" transform="rotate(11 170.4 383.6)"/>
<ellipse cx="125.2" cy="393.4" rx="3.5" ry="2.5" fill="url(#g5)" transform="rotate(72 125.2 393.4)"/>
<ellipse cx="131.3" cy="394.0" rx="2.9" ry="2.3" fill="url(#g7)" transform="rotate(8 131.3 394.0)"/>
<ellipse cx="141.7" cy="393.4" rx="2.5" ry="2.6" fill="url(#g5)" transform="rotate(55 141.7 393.4)"/>
<ellipse cx="129.5" cy="398.3" rx="2.4" ry="2.1" fill="url(#g5)" transform="rotate(176 129.5 398.3)"/>
<ellipse cx="146.0" cy="398.3" rx="2.7" ry="1.8" fill="url(#g6)" transform="rotate(53 146.0 398.3)"/>
<ellipse cx="162.5" cy="395.2" rx="3.5" ry="2.6" fill="url(#g6)" transform="rotate(35 162.5 395.2)"/>
<ellipse cx="168.6" cy="394.6" rx="2.4" ry="1.5" fill="url(#g3)" transform="rotate(85 168.6 394.6)"/>
<ellipse cx="180.2" cy="394.6" rx="1.9" ry="1.8" fill="url(#g4)" transform="rotate(179 180.2 394.6)"/>
<ellipse cx="181.4" cy="398.9" rx="2.4" ry="2.1" fill="url(#g5)" transform="rotate(34 181.4 398.9)"/>
<ellipse cx="177.2" cy="400.1" rx="2.1" ry="1.2" fill="url(#g3)" transform="rotate(19 177.2 400.1)"/>
<ellipse cx="133.2" cy="404.4" rx="2.3" ry="1.5" fill="url(#g4)" transform="rotate(162 133.2 404.4)"/>
<ellipse cx="140.5" cy="403.8" rx="2.4" ry="1.7" fill="url(#g5)" transform="rotate(24 140.5 403.8)"/>
<ellipse cx="142.9" cy="408.1" rx="3.3" ry="2.6" fill="url(#g5)" transform="rotate(80 142.9 408.1)"/>
<ellipse cx="130.1" cy="409.3" rx="2.8" ry="2.3" fill="url(#g5)" transform="rotate(55 130.1 409.3)"/>
<ellipse cx="136.2" cy="414.2" rx="2.6" ry="1.6" fill="url(#g5)" transform="rotate(33 136.2 414.2)"/>
<ellipse cx="146.6" cy="416.0" rx="2.2" ry="1.9" fill="url(#g4)" transform="rotate(142 146.6 416.0)"/>
<ellipse cx="138.1" cy="418.4" rx="3.8" ry="3.1" fill="url(#g6)" transform="rotate(159 138.1 418.4)"/>
<ellipse cx="125.2" cy="420.9" rx="2.8" ry="1.9" fill="url(#g5)" transform="rotate(54 125.2 420.9)"/>
<ellipse cx="170.4" cy="413.5" rx="2.5" ry="1.7" fill="url(#g3)" transform="rotate(50 170.4 413.5)"/>
<ellipse cx="183.3" cy="416.6" rx="2.2" ry="1.4" fill="url(#g5)" transform="rotate(177 183.3 416.6)"/>
<ellipse cx="166.2" cy="423.9" rx="4.2" ry="3.2" fill="url(#g6)" transform="rotate(96 166.2 423.9)"/>
<ellipse cx="159.4" cy="425.2" rx="2.0" ry="1.9" fill="url(#g5)" transform="rotate(51 159.4 425.2)"/>
<ellipse cx="166.2" cy="429.4" rx="3.9" ry="3.5" fill="url(#g6)" transform="rotate(16 166.2 429.4)"/>
<ellipse cx="179.6" cy="424.5" rx="2.5" ry="2.2" fill="url(#g4)" transform="rotate(44 179.6 424.5)"/>
<ellipse cx="179.6" cy="428.8" rx="2.2" ry="1.8" fill="url(#g5)" transform="rotate(34 179.6 428.8)"/>
<ellipse cx="182.7" cy="406.2" rx="1.8" ry="1.3" fill="url(#g2)" transform="rotate(6 182.7 406.2)"/>
</g>
<g clip-path="url(#c2)">
<ellipse cx="88.4" cy="430.6" rx="2.4" ry="2.0" fill="url(#g6)" transform="rotate(69 88.4 430.6)"/>
<ellipse cx="86.6" cy="434.9" rx="3.5" ry="2.3" fill="url(#g6)" transform="rotate(32 86.6 434.9)"/>
<ellipse cx="90.3" cy="438.6" rx="1.9" ry="1.4" fill="url(#g5)" transform="rotate(65 90.3 438.6)"/>
<ellipse cx="65.8" cy="440.4" rx="2.6" ry="2.0" fill="url(#g5)" transform="rotate(93 65.8 440.4)"/>
<ellipse cx="66.4" cy="447.1" rx="2.8" ry="2.3" fill="url(#g5)" transform="rotate(123 66.4 447.1)"/>
<ellipse cx="97.6" cy="445.9" rx="1.8" ry="1.6" fill="url(#g5)" transform="rotate(31 97.6 445.9)"/>
<ellipse cx="117.8" cy="445.3" rx="3.4" ry="2.0" fill="url(#g6)" transform="rotate(109 117.8 445.3)"/>
<ellipse cx="113.5" cy="441.0" rx="1.6" ry="1.3" fill="url(#g2)" transform="rotate(139 113.5 441.0)"/>
<ellipse cx="86.6" cy="448.3" rx="2.0" ry="1.5" fill="url(#g2)" transform="rotate(42 86.6 448.3)"/>
<ellipse cx="76.8" cy="451.4" rx="3.3" ry="2.3" fill="url(#g6)" transform="rotate(104 76.8 451.4)"/>
<ellipse cx="97.6" cy="452.0" rx="2.1" ry="1.3" fill="url(#g4)" transform="rotate(107 97.6 452.0)"/>
<ellipse cx="101.3" cy="453.2" rx="2.0" ry="1.4" fill="url(#g5)" transform="rotate(157 101.3 453.2)"/>
<ellipse cx="116.5" cy="452.0" rx="1.9" ry="1.4" fill="url(#g5)" transform="rotate(3 116.5 452.0)"/>
<ellipse cx="78.7" cy="455.7" rx="3.0" ry="2.2" fill="url(#g5)" transform="rotate(80 78.7 455.7)"/>
<ellipse cx="69.5" cy="455.7" rx="2.2" ry="2.0" fill="url(#g6)" transform="rotate(13 69.5 455.7)"/>
<ellipse cx="97.6" cy="459.9" rx="3.2" ry="2.1" fill="url(#g5)" transform="rotate(98 97.6 459.9)"/>
<ellipse cx="105.5" cy="458.7" rx="2.0" ry="1.2" fill="url(#g1)" transform="rotate(26 105.5 458.7)"/>
<ellipse cx="87.8" cy="462.4" rx="2.3" ry="1.5" fill="url(#g6)" transform="rotate(57 87.8 462.4)"/>
<ellipse cx="94.6" cy="463.6" rx="2.6" ry="1.8" fill="url(#g6)" transform="rotate(48 94.6 463.6)"/>
<ellipse cx="116.5" cy="463.0" rx="1.9" ry="1.2" fill="url(#g4)" transform="rotate(148 116.5 463.0)"/>
<ellipse cx="122.7" cy="466.1" rx="2.4" ry="1.9" fill="url(#g6)" transform="rotate(29 122.7 466.1)"/>
<ellipse cx="86.6" cy="467.9" rx="2.6" ry="2.0" fill="url(#g5)" transform="rotate(142 86.6 467.9)"/>
<ellipse cx="90.3" cy="467.3" rx="2.0" ry="1.8" fill="url(#g5)" transform="rotate(66 90.3 467.3)"/>
<ellipse cx="111.0" cy="469.7" rx="2.5" ry="2.4" fill="url(#g5)" transform="rotate(8 111.0 469.7)"/>
<ellipse cx="115.3" cy="472.8" rx="1.8" ry="1.5" fill="url(#g2)" transform="rotate(178 115.3 472.8)"/>
<ellipse cx="68.3" cy="481.3" rx="2.6" ry="2.2" fill="url(#g6)" transform="rotate(134 68.3 481.3)"/>
<ellipse cx="89.1" cy="485.0" rx="2.5" ry="2.1" fill="url(#g5)" transform="rotate(160 89.1 485.0)"/>
<ellipse cx="73.2" cy="487.4" rx="2.1" ry="1.8" fill="url(#g5)" transform="rotate(54 73.2 487.4)"/>
<ellipse cx="103.7" cy="447.7" rx="1.2" ry="0.8" fill="url(#g5)" transform="rotate(6 103.7 447.7)"/>
<ellipse cx="76.8" cy="466.1" rx="1.8" ry="1.2" fill="url(#g1)" transform="rotate(132 76.8 466.1)"/>
</g>
<g clip-path="url(#c2)">
<ellipse cx="166.2" cy="432.4" rx="4.4" ry="3.3" fill="url(#g6)" transform="rotate(99 166.2 432.4)"/>
<ellipse cx="175.3" cy="434.9" rx="1.9" ry="1.6" fill="url(#g4)" transform="rotate(168 175.3 434.9)"/>
<ellipse cx="183.3" cy="435.5" rx="2.0" ry="1.5" fill="url(#g5)" transform="rotate(177 183.3 435.5)"/>
<ellipse cx="160.1" cy="436.7" rx="2.5" ry="1.5" fill="url(#g5)" transform="rotate(73 160.1 436.7)"/>
<ellipse cx="153.9" cy="438.6" rx="2.3" ry="1.4" fill="url(#g5)" transform="rotate(62 153.9 438.6)"/>
<ellipse cx="130.7" cy="442.8" rx="2.3" ry="1.8" fill="url(#g3)" transform="rotate(106 130.7 442.8)"/>
<ellipse cx="142.9" cy="445.3" rx="2.4" ry="1.6" fill="url(#g3)" transform="rotate(71 142.9 445.3)"/>
<ellipse cx="152.7" cy="445.3" rx="3.1" ry="2.0" fill="url(#g5)" transform="rotate(141 152.7 445.3)"/>
<ellipse cx="168.6" cy="446.5" rx="3.0" ry="2.4" fill="url(#g5)" transform="rotate(33 168.6 446.5)"/>
<ellipse cx="159.4" cy="448.9" rx="2.2" ry="1.4" fill="url(#g6)" transform="rotate(37 159.4 448.9)"/>
<ellipse cx="180.8" cy="441.6" rx="1.4" ry="1.1" fill="url(#g2)" transform="rotate(56 180.8 441.6)"/>
<ellipse cx="141.7" cy="452.0" rx="2.7" ry="2.4" fill="url(#g6)" transform="rotate(122 141.7 452.0)"/>
<ellipse cx="155.2" cy="452.0" rx="3.1" ry="1.8" fill="url(#g6)" transform="rotate(69 155.2 452.0)"/>
<ellipse cx="181.4" cy="454.4" rx="1.5" ry="1.4" fill="url(#g3)" transform="rotate(65 181.4 454.4)"/>
<ellipse cx="147.2" cy="457.5" rx="2.0" ry="1.3" fill="url(#g3)" transform="rotate(33 147.2 457.5)"/>
<ellipse cx="153.9" cy="459.3" rx="2.2" ry="1.8" fill="url(#g5)" transform="rotate(166 153.9 459.3)"/>
<ellipse cx="160.1" cy="459.9" rx="3.0" ry="1.9" fill="url(#g6)" transform="rotate(65 160.1 459.9)"/>
<ellipse cx="150.9" cy="461.8" rx="2.1" ry="2.1" fill="url(#g7)" transform="rotate(65 150.9 461.8)"/>
<ellipse cx="174.1" cy="459.3" rx="2.4" ry="1.7" fill="url(#g3)" transform="rotate(163 174.1 459.3)"/>
<ellipse cx="130.7" cy="462.4" rx="2.5" ry="2.1" fill="url(#g5)" transform="rotate(69 130.7 462.4)"/>
<ellipse cx="142.9" cy="465.4" rx="2.8" ry="2.8" fill="url(#g5)" transform="rotate(59 142.9 465.4)"/>
<ellipse cx="125.8" cy="466.1" rx="2.7" ry="1.8" fill="url(#g5)" transform="rotate(10 125.8 466.1)"/>
<ellipse cx="127.7" cy="469.7" rx="2.6" ry="1.9" fill="url(#g6)" transform="rotate(7 127.7 469.7)"/>
<ellipse cx="153.9" cy="467.9" rx="2.6" ry="2.3" fill="url(#g5)" transform="rotate(6 153.9 467.9)"/>
<ellipse cx="150.9" cy="469.1" rx="1.7" ry="1.3" fill="url(#g4)" transform="rotate(98 150.9 469.1)"/>
<ellipse cx="181.4" cy="467.3" rx="1.6" ry="1.5" fill="url(#g2)" transform="rotate(47 181.4 467.3)"/>
<ellipse cx="131.9" cy="476.4" rx="2.7" ry="1.9" fill="url(#g4)" transform="rotate(26 131.9 476.4)"/>
<ellipse cx="133.8" cy="479.5" rx="2.2" ry="1.7" fill="url(#g4)" transform="rotate(128 133.8 479.5)"/>
<ellipse cx="144.2" cy="472.8" rx="1.8" ry="1.3" fill="url(#g2)" transform="rotate(156 144.2 472.8)"/>
<ellipse cx="166.8" cy="476.2" rx="2.7" ry="2.1" fill="url(#g5)" transform="rotate(62 166.8 476.2)"/>
<ellipse cx="148.4" cy="478.9" rx="2.2" ry="1.5" fill="url(#g4)" transform="rotate(4 148.4 478.9)"/>
<ellipse cx="180.8" cy="482.5" rx="2.6" ry="1.9" fill="url(#g5)" transform="rotate(146 180.8 482.5)"/>
<ellipse cx="178.4" cy="479.5" rx="2.2" ry="1.3" fill="url(#g3)" transform="rotate(121 178.4 479.5)"/>
<ellipse cx="183.3" cy="478.9" rx="2.1" ry="1.2" fill="url(#g4)" transform="rotate(124 183.3 478.9)"/>
<ellipse cx="138.1" cy="487.4" rx="3.2" ry="2.6" fill="url(#g5)" transform="rotate(156 138.1 487.4)"/>
<ellipse cx="160.1" cy="481.9" rx="1.4" ry="1.2" fill="url(#g2)" transform="rotate(16 160.1 481.9)"/>
<ellipse cx="174.1" cy="463.0" rx="1.5" ry="1.1" fill="url(#g2)" transform="rotate(11 174.1 463.0)"/>
</g>
<g clip-path="url(#c3)">
<ellipse cx="196.3" cy="373.8" rx="2.3" ry="1.7" fill="url(#g4)" transform="rotate(89 196.3 373.8)"/>
<ellipse cx="195.7" cy="377.5" rx="2.5" ry="1.8" fill="url(#g5)" transform="rotate(72 195.7 377.5)"/>
<ellipse cx="192.1" cy="377.5" rx="1.8" ry="1.2" fill="url(#g4)" transform="rotate(120 192.1 377.5)"/>
<ellipse cx="201.2" cy="382.4" rx="3.3" ry="2.4" fill="url(#g6)" transform="rotate(62 201.2 382.4)"/>
<ellipse cx="208.6" cy="376.9" rx="1.8" ry="1.2" fill="url(#g3)" transform="rotate(105 208.6 376.9)"/>
<ellipse cx="211.0" cy="379.9" rx="2.0" ry="1.4" fill="url(#g4)" transform="rotate(126 211.0 379.9)"/>
<ellipse cx="204.9" cy="387.3" rx="1.3" ry="1.1" fill="url(#g3)" transform="rotate(66 204.9 387.3)"/>
<ellipse cx="229.3" cy="374.4" rx="2.3" ry="2.0" fill="url(#g5)" transform="rotate(10 229.3 374.4)"/>
<ellipse cx="225.1" cy="381.8" rx="4.0" ry="3.0" fill="url(#g6)" transform="rotate(84 225.1 381.8)"/>
<ellipse cx="229.9" cy="381.8" rx="2.0" ry="1.5" fill="url(#g4)" transform="rotate(4 229.9 381.8)"/>
<ellipse cx="235.4" cy="379.9" rx="2.6" ry="2.3" fill="url(#g5)" transform="rotate(102 235.4 379.9)"/>
<ellipse cx="232.4" cy="385.4" rx="1.7" ry="1.4" fill="url(#g3)" transform="rotate(33 232.4 385.4)"/>
<ellipse cx="242.2" cy="386.1" rx="2.7" ry="2.1" fill="url(#g5)" transform="rotate(172 242.2 386.1)"/>
<ellipse cx="247.7" cy="383.6" rx="2.3" ry="1.9" fill="url(#g5)" transform="rotate(170 247.7 383.6)"/>
<ellipse cx="242.2" cy="390.9" rx="2.7" ry="1.9" fill="url(#g5)" transform="rotate(112 242.2 390.9)"/>
<ellipse cx="216.5" cy="389.7" rx="2.4" ry="1.8" fill="url(#g5)" transform="rotate(50 216.5 389.7)"/>
<ellipse cx="225.1" cy="393.4" rx="3.4" ry="2.6" fill="url(#g5)" transform="rotate(69 225.1 393.4)"/>
<ellipse cx="214.1" cy="395.8" rx="2.8" ry="1.5" fill="url(#g6)" transform="rotate(24 214.1 395.8)"/>
<ellipse cx="218.3" cy="394.6" rx="1.8" ry="1.3" fill="url(#g4)" transform="rotate(65 218.3 394.6)"/>
<ellipse cx="196.3" cy="392.8" rx="2.2" ry="1.2" fill="url(#g4)" transform="rotate(35 196.3 392.8)"/>
<ellipse cx="203.1" cy="395.8" rx="1.9" ry="1.7" fill="url(#g5)" transform="rotate(42 203.1 395.8)"/>
<ellipse cx="190.8" cy="394.6" rx="1.2" ry="1.2" fill="url(#g4)" transform="rotate(71 190.8 394.6)"/>
<ellipse cx="239.1" cy="400.1" rx="2.5" ry="2.0" fill="url(#g4)" transform="rotate(117 239.1 400.1)"/>
<ellipse cx="248.3" cy="398.9" rx="2.2" ry="1.7" fill="url(#g4)" transform="rotate(101 248.3 398.9)"/>
<ellipse cx="204.9" cy="401.3" rx="3.4" ry="2.6" fill="url(#g6)" transform="rotate(60 204.9 401.3)"/>
<ellipse cx="198.2" cy="403.2" rx="2.0" ry="1.8" fill="url(#g5)" transform="rotate(56 198.2 403.2)"/>
<ellipse cx="201.2" cy="404.4" rx="2.6" ry="1.9" fill="url(#g5)" transform="rotate(124 201.2 404.4)"/>
<ellipse cx="216.5" cy="405.0" rx="3.6" ry="2.5" fill="url(#g6)" transform="rotate(29 216.5 405.0)"/>
<ellipse cx="244.6" cy="403.2" rx="2.6" ry="1.8" fill="url(#g5)" transform="rotate(101 244.6 403.2)"/>
<ellipse cx="244.6" cy="406.8" rx="2.6" ry="1.9" fill="url(#g5)" transform="rotate(135 244.6 406.8)"/>
<ellipse cx="211.0" cy="409.3" rx="2.5" ry="1.7" fill="url(#g4)" transform="rotate(45 211.0 409.3)"/>
<ellipse cx="228.7" cy="409.9" rx="1.7" ry="1.2" fill="url(#g2)" transform="rotate(92 228.7 409.9)"/>
<ellipse cx="218.3" cy="411.1" rx="1.3" ry="1.0" fill="url(#g2)" transform="rotate(12 218.3 411.1)"/>
<ellipse cx="193.9" cy="412.3" rx="2.1" ry="1.9" fill="url(#g5)" transform="rotate(20 193.9 412.3)"/>
<ellipse cx="199.4" cy="414.2" rx="3.6" ry="3.0" fill="url(#g5)" transform="rotate(87 199.4 414.2)"/>
<ellipse cx="196.3" cy="416.6" rx="1.9" ry="1.8" fill="url(#g3)" transform="rotate(157 196.3 416.6)"/>
<ellipse cx="236.7" cy="414.2" rx="2.3" ry="1.9" fill="url(#g6)" transform="rotate(91 236.7 414.2)"/>
<ellipse cx="239.7" cy="416.0" rx="2.4" ry="1.5" fill="url(#g5)" transform="rotate(129 239.7 416.0)"/>
<ellipse cx="231.8" cy="420.3" rx="2.8" ry="2.4" fill="url(#g5)" transform="rotate(59 231.8 420.3)"/>
<ellipse cx="236.7" cy="420.3" rx="2.3" ry="2.0" fill="url(#g5)" transform="rotate(152 236.7 420.3)"/>
<ellipse cx="241.5" cy="420.3" rx="2.1" ry="1.4" fill="url(#g4)" transform="rotate(76 241.5 420.3)"/>
<ellipse cx="193.3" cy="422.1" rx="3.0" ry="2.1" fill="url(#g7)" transform="rotate(150 193.3 422.1)"/>
<ellipse cx="196.3" cy="424.5" rx="2.0" ry="1.2" fill="url(#g3)" transform="rotate(68 196.3 424.5)"/>
<ellipse cx="214.1" cy="421.5" rx="2.9" ry="1.9" fill="url(#g5)" transform="rotate(33 214.1 421.5)"/>
<ellipse cx="209.8" cy="422.7" rx="1.7" ry="1.6" fill="url(#g5)" transform="rotate(169 209.8 422.7)"/>
<ellipse cx="207.9" cy="425.8" rx="2.2" ry="1.2" fill="url(#g4)" transform="rotate(124 207.9 425.8)"/>
<ellipse cx="221.4" cy="425.2" rx="2.1" ry="1.7" fill="url(#g5)" transform="rotate(71 221.4 425.2)"/>
<ellipse cx="225.1" cy="426.4" rx="3.2" ry="2.4" fill="url(#g5)" transform="rotate(9 225.1 426.4)"/>
<ellipse cx="192.7" cy="428.8" rx="2.6" ry="1.6" fill="url(#g5)" transform="rotate(8 192.7 428.8)"/>
<ellipse cx="198.2" cy="429.4" rx="2.0" ry="1.7" fill="url(#g5)" transform="rotate(179 198.2 429.4)"/>
<ellipse cx="201.8" cy="428.8" rx="2.1" ry="1.7" fill="url(#g5)" transform="rotate(5 201.8 428.8)"/>
<ellipse cx="239.1" cy="430.0" rx="2.2" ry="1.6" fill="url(#g5)" transform="rotate(67 239.1 430.0)"/>
<ellipse cx="189.6" cy="420.9" rx="1.1" ry="1.0" fill="url(#g5)" transform="rotate(151 189.6 420.9)"/>
</g>
<g clip-path="url(#c3)">
<ellipse cx="277.1" cy="373.5" rx="1.7" ry="1.3" fill="url(#g4)" transform="rotate(111 277.1 373.5)"/>
<ellipse cx="269.8" cy="376.9" rx="2.4" ry="1.8" fill="url(#g5)" transform="rotate(70 269.8 376.9)"/>
<ellipse cx="302.8" cy="376.9" rx="2.0" ry="1.4" fill="url(#g3)" transform="rotate(144 302.8 376.9)"/>
<ellipse cx="258.2" cy="378.7" rx="1.3" ry="1.0" fill="url(#g3)" transform="rotate(19 258.2 378.7)"/>
<ellipse cx="285.7" cy="379.3" rx="2.5" ry="1.5" fill="url(#g5)" transform="rotate(88 285.7 379.3)"/>
<ellipse cx="270.4" cy="381.2" rx="2.1" ry="1.7" fill="url(#g5)" transform="rotate(3 270.4 381.2)"/>
<ellipse cx="262.4" cy="381.8" rx="2.5" ry="1.6" fill="url(#g5)" transform="rotate(113 262.4 381.8)"/>
<ellipse cx="280.2" cy="382.4" rx="1.7" ry="1.2" fill="url(#g3)" transform="rotate(87 280.2 382.4)"/>
<ellipse cx="272.2" cy="388.5" rx="2.6" ry="1.9" fill="url(#g5)" transform="rotate(9 272.2 388.5)"/>
<ellipse cx="275.3" cy="390.9" rx="1.8" ry="1.8" fill="url(#g5)" transform="rotate(56 275.3 390.9)"/>
<ellipse cx="270.4" cy="392.2" rx="1.8" ry="1.4" fill="url(#g5)" transform="rotate(87 270.4 392.2)"/>
<ellipse cx="255.1" cy="394.6" rx="3.3" ry="1.8" fill="url(#g5)" transform="rotate(156 255.1 394.6)"/>
<ellipse cx="259.4" cy="395.8" rx="3.3" ry="2.4" fill="url(#g5)" transform="rotate(145 259.4 395.8)"/>
<ellipse cx="280.2" cy="394.0" rx="2.1" ry="1.4" fill="url(#g3)" transform="rotate(99 280.2 394.0)"/>
<ellipse cx="289.9" cy="394.0" rx="1.9" ry="1.4" fill="url(#g3)" transform="rotate(50 289.9 394.0)"/>
<ellipse cx="294.8" cy="392.8" rx="2.5" ry="1.8" fill="url(#g3)" transform="rotate(179 294.8 392.8)"/>
<ellipse cx="272.8" cy="401.3" rx="2.7" ry="2.3" fill="url(#g7)" transform="rotate(130 272.8 401.3)"/>
<ellipse cx="280.2" cy="400.1" rx="2.1" ry="1.5" fill="url(#g4)" transform="rotate(30 280.2 400.1)"/>
<ellipse cx="288.7" cy="403.2" rx="2.1" ry="1.6" fill="url(#g5)" transform="rotate(65 288.7 403.2)"/>
<ellipse cx="305.8" cy="404.4" rx="3.0" ry="1.9" fill="url(#g5)" transform="rotate(93 305.8 404.4)"/>
<ellipse cx="251.4" cy="405.0" rx="1.5" ry="1.2" fill="url(#g3)" transform="rotate(173 251.4 405.0)"/>
<ellipse cx="251.4" cy="409.3" rx="1.7" ry="1.6" fill="url(#g4)" transform="rotate(146 251.4 409.3)"/>
<ellipse cx="299.7" cy="408.1" rx="4.4" ry="3.2" fill="url(#g6)" transform="rotate(72 299.7 408.1)"/>
<ellipse cx="306.4" cy="409.9" rx="2.7" ry="2.0" fill="url(#g4)" transform="rotate(138 306.4 409.9)"/>
<ellipse cx="287.5" cy="411.7" rx="3.6" ry="2.0" fill="url(#g5)" transform="rotate(171 287.5 411.7)"/>
<ellipse cx="299.7" cy="411.7" rx="2.4" ry="1.9" fill="url(#g5)" transform="rotate(45 299.7 411.7)"/>
<ellipse cx="296.7" cy="414.8" rx="3.5" ry="1.9" fill="url(#g7)" transform="rotate(104 296.7 414.8)"/>
<ellipse cx="256.3" cy="417.2" rx="3.3" ry="2.6" fill="url(#g5)" transform="rotate(66 256.3 417.2)"/>
<ellipse cx="260.6" cy="411.7" rx="1.9" ry="1.5" fill="url(#g4)" transform="rotate(66 260.6 411.7)"/>
<ellipse cx="269.2" cy="417.8" rx="2.9" ry="1.9" fill="url(#g4)" transform="rotate(50 269.2 417.8)"/>
<ellipse cx="271.6" cy="419.0" rx="2.1" ry="1.3" fill="url(#g4)" transform="rotate(17 271.6 419.0)"/>
<ellipse cx="294.8" cy="418.4" rx="3.1" ry="2.7" fill="url(#g7)" transform="rotate(38 294.8 418.4)"/>
<ellipse cx="301.5" cy="422.1" rx="2.3" ry="1.6" fill="url(#g5)" transform="rotate(122 301.5 422.1)"/>
<ellipse cx="306.4" cy="425.2" rx="2.1" ry="1.6" fill="url(#g6)" transform="rotate(26 306.4 425.2)"/>
<ellipse cx="254.5" cy="426.4" rx="2.3" ry="1.8" fill="url(#g5)" transform="rotate(2 254.5 426.4)"/>
<ellipse cx="286.3" cy="425.2" rx="2.1" ry="1.5" fill="url(#g4)" transform="rotate(58 286.3 425.2)"/>
<ellipse cx="293.6" cy="425.2" rx="1.9" ry="1.6" fill="url(#g3)" transform="rotate(37 293.6 425.2)"/>
<ellipse cx="271.6" cy="428.2" rx="3.1" ry="1.9" fill="url(#g5)" transform="rotate(136 271.6 428.2)"/>
<ellipse cx="300.3" cy="428.2" rx="2.3" ry="2.4" fill="url(#g5)" transform="rotate(77 300.3 428.2)"/>
<ellipse cx="271.0" cy="411.1" rx="2.5" ry="1.4" fill="url(#g2)" transform="rotate(73 271.0 411.1)"/>
</g>
<g clip-path="url(#c3)">
<ellipse cx="192.7" cy="430.6" rx="2.0" ry="1.2" fill="url(#g5)" transform="rotate(49 192.7 430.6)"/>
<ellipse cx="200.0" cy="432.4" rx="2.9" ry="2.3" fill="url(#g5)" transform="rotate(58 200.0 432.4)"/>
<ellipse cx="203.7" cy="434.9" rx="1.9" ry="1.5" fill="url(#g5)" transform="rotate(178 203.7 434.9)"/>
<ellipse cx="207.9" cy="430.6" rx="1.3" ry="1.2" fill="url(#g3)" transform="rotate(68 207.9 430.6)"/>
<ellipse cx="223.2" cy="433.7" rx="2.3" ry="1.4" fill="url(#g5)" transform="rotate(111 223.2 433.7)"/>
<ellipse cx="239.1" cy="432.4" rx="2.8" ry="2.0" fill="url(#g5)" transform="rotate(113 239.1 432.4)"/>
<ellipse cx="247.7" cy="436.7" rx="1.8" ry="1.4" fill="url(#g5)" transform="rotate(21 247.7 436.7)"/>
<ellipse cx="247.7" cy="439.8" rx="2.1" ry="1.4" fill="url(#g4)" transform="rotate(82 247.7 439.8)"/>
<ellipse cx="221.4" cy="440.4" rx="2.6" ry="1.8" fill="url(#g5)" transform="rotate(69 221.4 440.4)"/>
<ellipse cx="206.1" cy="440.4" rx="1.6" ry="1.4" fill="url(#g3)" transform="rotate(103 206.1 440.4)"/>
<ellipse cx="211.0" cy="442.2" rx="2.8" ry="1.7" fill="url(#g6)" transform="rotate(113 211.0 442.2)"/>
<ellipse cx="242.8" cy="442.2" rx="2.7" ry="2.1" fill="url(#g5)" transform="rotate(107 242.8 442.2)"/>
<ellipse cx="215.3" cy="447.1" rx="3.2" ry="1.8" fill="url(#g5)" transform="rotate(84 215.3 447.1)"/>
<ellipse cx="211.0" cy="446.5" rx="2.2" ry="1.5" fill="url(#g3)" transform="rotate(56 211.0 446.5)"/>
<ellipse cx="223.2" cy="447.7" rx="3.3" ry="2.6" fill="url(#g6)" transform="rotate(72 223.2 447.7)"/>
<ellipse cx="218.3" cy="446.5" rx="1.7" ry="1.0" fill="url(#g4)" transform="rotate(178 218.3 446.5)"/>
<ellipse cx="231.8" cy="447.7" rx="3.0" ry="2.1" fill="url(#g6)" transform="rotate(151 231.8 447.7)"/>
<ellipse cx="235.4" cy="445.9" rx="2.6" ry="2.1" fill="url(#g6)" transform="rotate(149 235.4 445.9)"/>
<ellipse cx="238.5" cy="444.1" rx="1.7" ry="1.1" fill="url(#g3)" transform="rotate(179 238.5 444.1)"/>
<ellipse cx="192.1" cy="453.2" rx="2.3" ry="2.3" fill="url(#g6)" transform="rotate(128 192.1 453.2)"/>
<ellipse cx="204.3" cy="452.6" rx="1.9" ry="1.7" fill="url(#g5)" transform="rotate(82 204.3 452.6)"/>
<ellipse cx="207.9" cy="450.8" rx="2.2" ry="1.8" fill="url(#g4)" transform="rotate(35 207.9 450.8)"/>
<ellipse cx="200.0" cy="452.0" rx="1.4" ry="1.2" fill="url(#g2)" transform="rotate(13 200.0 452.0)"/>
<ellipse cx="244.0" cy="453.2" rx="2.8" ry="2.2" fill="url(#g5)" transform="rotate(88 244.0 453.2)"/>
<ellipse cx="241.5" cy="456.3" rx="1.9" ry="1.7" fill="url(#g5)" transform="rotate(154 241.5 456.3)"/>
<ellipse cx="215.9" cy="454.4" rx="2.4" ry="1.6" fill="url(#g5)" transform="rotate(163 215.9 454.4)"/>
<ellipse cx="208.6" cy="455.7" rx="2.0" ry="1.2" fill="url(#g4)" transform="rotate(66 208.6 455.7)"/>
<ellipse cx="223.2" cy="458.1" rx="2.1" ry="1.5" fill="url(#g4)" transform="rotate(62 223.2 458.1)"/>
<ellipse cx="205.5" cy="463.6" rx="2.4" ry="1.8" fill="url(#g5)" transform="rotate(21 205.5 463.6)"/>
<ellipse cx="244.6" cy="466.4" rx="2.7" ry="2.2" fill="url(#g6)" transform="rotate(153 244.6 466.4)"/>
<ellipse cx="217.7" cy="467.9" rx="2.6" ry="2.1" fill="url(#g5)" transform="rotate(13 217.7 467.9)"/>
<ellipse cx="214.1" cy="468.5" rx="2.2" ry="1.2" fill="url(#g4)" transform="rotate(113 214.1 468.5)"/>
<ellipse cx="215.3" cy="472.2" rx="2.8" ry="2.0" fill="url(#g5)" transform="rotate(35 215.3 472.2)"/>
<ellipse cx="226.3" cy="472.8" rx="2.3" ry="1.6" fill="url(#g5)" transform="rotate(3 226.3 472.8)"/>
<ellipse cx="240.3" cy="473.4" rx="3.2" ry="2.3" fill="url(#g6)" transform="rotate(113 240.3 473.4)"/>
<ellipse cx="239.7" cy="477.0" rx="1.7" ry="1.4" fill="url(#g5)" transform="rotate(125 239.7 477.0)"/>
<ellipse cx="225.1" cy="476.4" rx="1.6" ry="1.2" fill="url(#g5)" transform="rotate(125 225.1 476.4)"/>
<ellipse cx="236.7" cy="478.9" rx="2.1" ry="1.4" fill="url(#g5)" transform="rotate(21 236.7 478.9)"/>
<ellipse cx="225.7" cy="480.1" rx="2.1" ry="1.4" fill="url(#g3)" transform="rotate(64 225.7 480.1)"/>
<ellipse cx="200.0" cy="477.7" rx="1.4" ry="1.3" fill="url(#g2)" transform="rotate(124 200.0 477.7)"/>
<ellipse cx="212.8" cy="480.1" rx="1.7" ry="1.1" fill="url(#g2)" transform="rotate(56 212.8 480.1)"/>
<ellipse cx="203.7" cy="481.9" rx="1.5" ry="1.0" fill="url(#g2)" transform="rotate(114 203.7 481.9)"/>
<ellipse cx="217.1" cy="483.2" rx="1.8" ry="1.5" fill="url(#g4)" transform="rotate(74 217.1 483.2)"/>
<ellipse cx="209.8" cy="485.6" rx="2.4" ry="1.8" fill="url(#g5)" transform="rotate(169 209.8 485.6)"/>
<ellipse cx="228.1" cy="484.4" rx="1.7" ry="1.5" fill="url(#g3)" transform="rotate(42 228.1 484.4)"/>
<ellipse cx="237.9" cy="483.8" rx="1.9" ry="1.3" fill="url(#g4)" transform="rotate(157 237.9 483.8)"/>
<ellipse cx="192.1" cy="485.0" rx="1.4" ry="1.3" fill="url(#g2)" transform="rotate(122 192.1 485.0)"/>
<ellipse cx="234.8" cy="488.7" rx="1.8" ry="1.6" fill="url(#g3)" transform="rotate(70 234.8 488.7)"/>
<ellipse cx="244.6" cy="475.8" rx="1.7" ry="1.2" fill="url(#g3)" transform="rotate(81 244.6 475.8)"/>
</g>
<g clip-path="url(#c3)">
<ellipse cx="270.4" cy="430.6" rx="1.3" ry="1.1" fill="url(#g4)" transform="rotate(51 270.4 430.6)"/>
<ellipse cx="255.7" cy="435.5" rx="2.7" ry="2.3" fill="url(#g5)" transform="rotate(53 255.7 435.5)"/>
<ellipse cx="250.2" cy="439.2" rx="2.3" ry="1.7" fill="url(#g4)" transform="rotate(44 250.2 439.2)"/>
<ellipse cx="256.3" cy="439.2" rx="2.1" ry="1.4" fill="url(#g3)" transform="rotate(161 256.3 439.2)"/>
<ellipse cx="262.4" cy="439.2" rx="2.5" ry="2.0" fill="url(#g5)" transform="rotate(61 262.4 439.2)"/>
<ellipse cx="266.7" cy="440.4" rx="2.1" ry="1.5" fill="url(#g3)" transform="rotate(106 266.7 440.4)"/>
<ellipse cx="270.4" cy="441.6" rx="1.9" ry="1.2" fill="url(#g3)" transform="rotate(161 270.4 441.6)"/>
<ellipse cx="302.2" cy="439.2" rx="1.8" ry="1.5" fill="url(#g5)" transform="rotate(67 302.2 439.2)"/>
<ellipse cx="306.4" cy="442.2" rx="1.7" ry="1.2" fill="url(#g3)" transform="rotate(62 306.4 442.2)"/>
<ellipse cx="278.3" cy="444.4" rx="2.1" ry="1.6" fill="url(#g4)" transform="rotate(4 278.3 444.4)"/>
<ellipse cx="258.8" cy="447.1" rx="2.9" ry="2.0" fill="url(#g5)" transform="rotate(65 258.8 447.1)"/>
<ellipse cx="261.8" cy="450.8" rx="2.4" ry="1.7" fill="url(#g6)" transform="rotate(121 261.8 450.8)"/>
<ellipse cx="272.2" cy="450.2" rx="2.9" ry="2.4" fill="url(#g5)" transform="rotate(176 272.2 450.2)"/>
<ellipse cx="308.3" cy="450.2" rx="1.8" ry="1.1" fill="url(#g5)" transform="rotate(149 308.3 450.2)"/>
<ellipse cx="271.6" cy="455.7" rx="2.3" ry="1.7" fill="url(#g3)" transform="rotate(180 271.6 455.7)"/>
<ellipse cx="280.2" cy="455.7" rx="2.0" ry="1.8" fill="url(#g5)" transform="rotate(72 280.2 455.7)"/>
<ellipse cx="292.4" cy="455.1" rx="1.9" ry="1.2" fill="url(#g3)" transform="rotate(178 292.4 455.1)"/>
<ellipse cx="289.9" cy="460.6" rx="1.9" ry="1.5" fill="url(#g4)" transform="rotate(26 289.9 460.6)"/>
<ellipse cx="251.4" cy="463.0" rx="2.6" ry="2.2" fill="url(#g6)" transform="rotate(15 251.4 463.0)"/>
<ellipse cx="263.7" cy="463.0" rx="2.4" ry="2.1" fill="url(#g5)" transform="rotate(112 263.7 463.0)"/>
<ellipse cx="275.3" cy="463.6" rx="2.3" ry="1.5" fill="url(#g4)" transform="rotate(146 275.3 463.6)"/>
<ellipse cx="271.0" cy="466.1" rx="2.7" ry="2.0" fill="url(#g5)" transform="rotate(22 271.0 466.1)"/>
<ellipse cx="277.7" cy="466.1" rx="2.7" ry="1.7" fill="url(#g5)" transform="rotate(155 277.7 466.1)"/>
<ellipse cx="253.3" cy="469.1" rx="3.6" ry="2.6" fill="url(#g5)" transform="rotate(4 253.3 469.1)"/>
<ellipse cx="280.2" cy="469.7" rx="2.0" ry="1.6" fill="url(#g4)" transform="rotate(96 280.2 469.7)"/>
<ellipse cx="275.3" cy="470.9" rx="2.1" ry="2.0" fill="url(#g6)" transform="rotate(54 275.3 470.9)"/>
<ellipse cx="305.2" cy="466.7" rx="2.4" ry="1.6" fill="url(#g4)" transform="rotate(102 305.2 466.7)"/>
<ellipse cx="299.1" cy="471.5" rx="1.8" ry="1.4" fill="url(#g4)" transform="rotate(92 299.1 471.5)"/>
<ellipse cx="294.8" cy="473.4" rx="2.0" ry="1.7" fill="url(#g5)" transform="rotate(44 294.8 473.4)"/>
<ellipse cx="304.6" cy="473.4" rx="2.7" ry="1.7" fill="url(#g5)" transform="rotate(39 304.6 473.4)"/>
<ellipse cx="282.6" cy="476.2" rx="2.1" ry="1.6" fill="url(#g4)" transform="rotate(83 282.6 476.2)"/>
<ellipse cx="305.8" cy="477.0" rx="3.5" ry="2.0" fill="url(#g6)" transform="rotate(153 305.8 477.0)"/>
<ellipse cx="268.6" cy="478.9" rx="2.1" ry="2.1" fill="url(#g5)" transform="rotate(94 268.6 478.9)"/>
<ellipse cx="276.5" cy="480.7" rx="2.4" ry="1.9" fill="url(#g5)" transform="rotate(155 276.5 480.7)"/>
<ellipse cx="278.3" cy="483.8" rx="2.5" ry="1.5" fill="url(#g5)" transform="rotate(2 278.3 483.8)"/>
<ellipse cx="260.0" cy="485.6" rx="3.2" ry="3.0" fill="url(#g6)" transform="rotate(132 260.0 485.6)"/>
<ellipse cx="260.6" cy="488.0" rx="2.0" ry="1.2" fill="url(#g5)" transform="rotate(96 260.6 488.0)"/>
<ellipse cx="302.8" cy="486.2" rx="1.3" ry="1.0" fill="url(#g2)" transform="rotate(54 302.8 486.2)"/>
</g>
<text x="344.6" y="248.5" font-size="13" font-weight="normal" fill="#111" text-anchor="start" stroke="#111" stroke-width="0.45" letter-spacing="0.3">(b)</text>
<text x="476" y="284" font-size="10.05" font-weight="bold" fill="#000" text-anchor="middle" >Serum EVs treated to primary midbrain</text>
<text x="476" y="295.6" font-size="10.05" font-weight="bold" fill="#000" text-anchor="middle" >neurons pre-treated with Rotenone</text>
<line x1="390.3" y1="338.4" x2="390.3" y2="446.6" stroke="#000" stroke-width="1.5" />
<line x1="389.6" y1="445.9" x2="554.7" y2="445.9" stroke="#000" stroke-width="1.5" />
<line x1="386.3" y1="339.1" x2="390.3" y2="339.1" stroke="#000" stroke-width="1.4" />
<text x="385.2" y="341.90000000000003" font-size="7.85" font-weight="bold" fill="#000" text-anchor="end" >0.6</text>
<line x1="386.3" y1="374.8" x2="390.3" y2="374.8" stroke="#000" stroke-width="1.4" />
<text x="385.2" y="377.6" font-size="7.85" font-weight="bold" fill="#000" text-anchor="end" >0.4</text>
<line x1="386.3" y1="410.4" x2="390.3" y2="410.4" stroke="#000" stroke-width="1.4" />
<text x="385.2" y="413.2" font-size="7.85" font-weight="bold" fill="#000" text-anchor="end" >0.2</text>
<line x1="386.3" y1="445.9" x2="390.3" y2="445.9" stroke="#000" stroke-width="1.4" />
<text x="385.2" y="448.7" font-size="7.85" font-weight="bold" fill="#000" text-anchor="end" >0.0</text>
<line x1="428.6" y1="445.9" x2="428.6" y2="449.6" stroke="#000" stroke-width="1.4" />
<text x="428.6" y="459.4" font-size="8.1" font-weight="bold" fill="#000" text-anchor="middle" >UN exo</text>
<line x1="516" y1="445.9" x2="516" y2="449.6" stroke="#000" stroke-width="1.4" />
<text x="516" y="459.4" font-size="8.1" font-weight="bold" fill="#000" text-anchor="middle" >R8 exo</text>
<text x="368.8" y="391.5" font-size="8.85" font-weight="bold" fill="#000" text-anchor="middle" transform="rotate(-90 368.8 391.5)" >% of Th neurons over HuC</text>
<rect x="401.8" y="360.3" width="20.899999999999977" height="85.59999999999997" fill="#efc283" stroke="#000" stroke-width="1.4"/>
<line x1="401.40000000000003" y1="446.3" x2="423.09999999999997" y2="446.3" stroke="#f28a22" stroke-width="3" />
<rect x="434.3" y="401.6" width="21.0" height="44.299999999999955" fill="#e29a8e" stroke="#000" stroke-width="1.4"/>
<line x1="433.90000000000003" y1="446.3" x2="455.7" y2="446.3" stroke="#de4227" stroke-width="3" />
<rect x="489.2" y="397.1" width="20.80000000000001" height="48.799999999999955" fill="#efc283" stroke="#000" stroke-width="1.4"/>
<line x1="488.8" y1="446.3" x2="510.4" y2="446.3" stroke="#f28a22" stroke-width="3" />
<rect x="521.8" y="425.4" width="20.800000000000068" height="20.5" fill="#e29a8e" stroke="#000" stroke-width="1.4"/>
<line x1="521.4" y1="446.3" x2="543.0" y2="446.3" stroke="#de4227" stroke-width="3" />
<line x1="412.2" y1="345.3" x2="412.2" y2="373.3" stroke="#555" stroke-width="0.7" />
<line x1="407.0" y1="345.3" x2="417.4" y2="345.3" stroke="#444" stroke-width="0.8" />
<line x1="407.0" y1="373.3" x2="417.4" y2="373.3" stroke="#444" stroke-width="0.8" />
<line x1="444.8" y1="388.7" x2="444.8" y2="412.4" stroke="#555" stroke-width="0.7" />
<line x1="439.5" y1="388.7" x2="450.1" y2="388.7" stroke="#444" stroke-width="0.8" />
<line x1="439.5" y1="412.4" x2="450.1" y2="412.4" stroke="#444" stroke-width="0.8" />
<line x1="499.6" y1="386.3" x2="499.6" y2="406.7" stroke="#555" stroke-width="0.7" />
<line x1="494.3" y1="386.3" x2="504.90000000000003" y2="386.3" stroke="#444" stroke-width="0.8" />
<line x1="494.3" y1="406.7" x2="504.90000000000003" y2="406.7" stroke="#444" stroke-width="0.8" />
<line x1="532.2" y1="418.5" x2="532.2" y2="430.5" stroke="#555" stroke-width="0.7" />
<line x1="526.9000000000001" y1="418.5" x2="537.5" y2="418.5" stroke="#444" stroke-width="0.8" />
<line x1="526.9000000000001" y1="430.5" x2="537.5" y2="430.5" stroke="#444" stroke-width="0.8" />
<circle cx="412.2" cy="345.3" r="2.0" fill="#f28a22"/>
<circle cx="412.2" cy="360" r="2.0" fill="#f28a22"/>
<circle cx="412.2" cy="371" r="2.0" fill="#f28a22"/>
<circle cx="412.2" cy="376.5" r="2.0" fill="#f28a22"/>
<circle cx="412.2" cy="374" r="2.0" fill="#f28a22"/>
<rect x="443" y="342.55" width="3.5" height="3.5" fill="#de4227"/>
<rect x="443" y="349.85" width="3.5" height="3.5" fill="#de4227"/>
<rect x="443.6" y="362" width="3.5" height="3.5" fill="#de4227" transform="rotate(20 445 364)"/>
<rect x="442.4" y="364" width="3.5" height="3.5" fill="#de4227" transform="rotate(20 444 365.5)"/>
<circle cx="500.2" cy="342.6" r="1.8" fill="#f28a22"/>
<circle cx="499.8" cy="351.7" r="1.8" fill="#f28a22"/>
<circle cx="500.0" cy="355" r="1.8" fill="#f28a22"/>
<circle cx="499.2" cy="357.5" r="1.8" fill="#f28a22"/>
<circle cx="499.6" cy="360" r="1.8" fill="#f28a22"/>
<circle cx="499.3" cy="362.3" r="1.8" fill="#f28a22"/>
<circle cx="499.5" cy="364.8" r="1.8" fill="#f28a22"/>
<circle cx="499.3" cy="367.2" r="1.8" fill="#f28a22"/>
<circle cx="500.1" cy="369.6" r="1.8" fill="#f28a22"/>
<circle cx="499.5" cy="372" r="1.8" fill="#f28a22"/>
<circle cx="499.7" cy="374.2" r="1.8" fill="#f28a22"/>
<circle cx="499.9" cy="376.2" r="1.8" fill="#f28a22"/>
<circle cx="500.1" cy="384" r="1.8" fill="#f28a22"/>
<circle cx="500.1" cy="396" r="1.8" fill="#f28a22"/>
<rect x="530.3" y="348.75" width="3.5" height="3.5" fill="#de4227"/>
<rect x="530.3" y="359.05" width="3.5" height="3.5" fill="#de4227"/>
<rect x="530.3" y="361.25" width="3.5" height="3.5" fill="#de4227"/>
<rect x="530.3" y="363.75" width="3.5" height="3.5" fill="#de4227"/>
<rect x="530.3" y="366.25" width="3.5" height="3.5" fill="#de4227"/>
<rect x="530.3" y="368.75" width="3.5" height="3.5" fill="#de4227"/>
<line x1="412.1" y1="311.7" x2="412.1" y2="339.3" stroke="#000" stroke-width="1.5" />
<line x1="412.1" y1="316.6" x2="531.3" y2="316.6" stroke="#000" stroke-width="1.5" />
<line x1="531.3" y1="311.9" x2="531.3" y2="341.5" stroke="#000" stroke-width="1.5" />
<line x1="412.1" y1="325.7" x2="531.3" y2="325.7" stroke="#000" stroke-width="1.5" />
<line x1="499.8" y1="320.7" x2="499.8" y2="338.5" stroke="#000" stroke-width="1.5" />
<line x1="412.1" y1="334.7" x2="443.6" y2="334.7" stroke="#000" stroke-width="1.5" />
<line x1="443.6" y1="330.1" x2="443.6" y2="339.6" stroke="#000" stroke-width="1.5" />
<text x="470.9" y="315.98" font-size="7.5" font-weight="bold" fill="#444" text-anchor="middle" >****</text>
<text x="457.4" y="325.57" font-size="7.5" font-weight="bold" fill="#444" text-anchor="middle" >*</text>
<text x="515.7" y="325.88" font-size="7.5" font-weight="bold" fill="#444" text-anchor="middle" >*</text>
<text x="428.4" y="334.57" font-size="7.5" font-weight="bold" fill="#444" text-anchor="middle" >*</text>
<circle cx="585" cy="321.5" r="1.5" fill="#f28a22"/>
<rect x="583.3" y="332.1" width="3.4" height="3.4" fill="#de4227"/>
<text x="597" y="324.5" font-size="8.65" font-weight="normal" fill="#111" text-anchor="start" >Untreated cells</text>
<text x="597" y="337" font-size="8.65" font-weight="normal" fill="#111" text-anchor="start" >Rotenone treated cells</text>
</g>
</svg>
</body></html>
